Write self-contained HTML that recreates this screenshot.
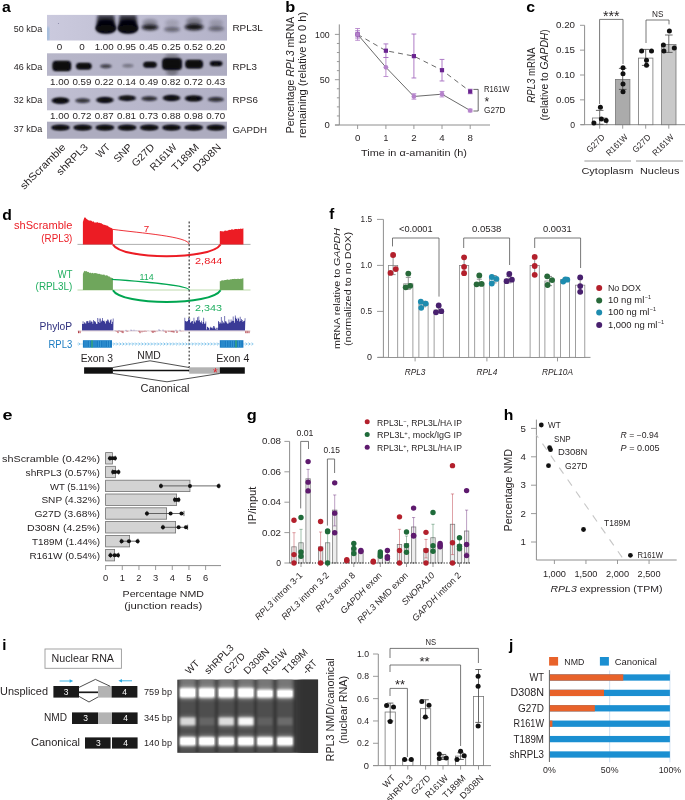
<!DOCTYPE html>
<html><head><meta charset="utf-8"><title>Figure</title>
<style>
html,body{margin:0;padding:0;background:#fff;}
body{width:685px;height:800px;overflow:hidden;font-family:"Liberation Sans",sans-serif;}
svg{display:block;font-family:"Liberation Sans",sans-serif;fill:#231f20;will-change:transform;}
</style></head><body>
<svg width="685" height="800" viewBox="0 0 685 800">
<defs>
<filter id="b1" x="-30%" y="-60%" width="160%" height="220%"><feGaussianBlur stdDeviation="1.3"/></filter>
<filter id="b2" x="-30%" y="-60%" width="160%" height="220%"><feGaussianBlur stdDeviation="0.9"/></filter>
<filter id="b3" x="-30%" y="-60%" width="160%" height="220%"><feGaussianBlur stdDeviation="1.8"/></filter>
</defs>
<rect width="685" height="800" fill="#fff"/>
<text x="2.10" y="11.60" font-size="14.8" fill="#000" font-weight="bold" textLength="8.80" lengthAdjust="spacingAndGlyphs">a</text>
<defs><linearGradient id="bg1" x1="0" x2="1" y1="0" y2="0"><stop offset="0" stop-color="#cbcade"/><stop offset="0.25" stop-color="#c5c4d8"/><stop offset="1" stop-color="#b3b2c8"/></linearGradient><linearGradient id="bg2" x1="0" x2="1" y1="0" y2="0"><stop offset="0" stop-color="#b7b6c9"/><stop offset="1" stop-color="#adacc1"/></linearGradient><clipPath id="ca1"><rect x="47" y="14.9" width="180" height="25.6"/></clipPath><clipPath id="ca2"><rect x="47" y="53.3" width="180" height="22.5"/></clipPath><clipPath id="ca3"><rect x="47" y="87.5" width="180" height="23.1"/></clipPath><clipPath id="ca4"><rect x="47" y="121.5" width="180" height="17.5"/></clipPath></defs>
<rect x="47.00" y="14.90" width="180.00" height="25.60" fill="url(#bg1)" stroke="none" stroke-width="0.8" />
<g clip-path="url(#ca1)">
<rect x="47.00" y="27.00" width="2.00" height="13.50" fill="#8fb6dc" stroke="none" stroke-width="0.8" filter="url(#b2)"/>
<circle cx="58.50" cy="23.50" r="0.6" fill="#8a88a8" />
<path d="M97.7 15 L114.1 15 L115.7 27 Q116.4 33.5 105.9 33.5 Q95.4 33.5 96.1 27 Z" fill="#0a0a14" opacity="0.8" filter="url(#b3)"/>
<path d="M98.9 20.5 Q105.9 18.5 112.9 20.5 L115.2 27 Q115.9 33 105.9 33 Q95.9 33 96.6 27 Z" fill="#05050c" filter="url(#b1)"/>
<ellipse cx="105.90" cy="28.30" rx="10" ry="3.9" fill="#07070f" opacity="1" filter="url(#b2)"/>
<path d="M119.8 15 L136.2 15 L137.8 27 Q138.4 33.5 128.0 33.5 Q117.5 33.5 118.2 27 Z" fill="#0a0a14" opacity="0.8" filter="url(#b3)"/>
<path d="M121.0 20.5 Q128.0 18.5 134.9 20.5 L137.2 27 Q137.9 33 128.0 33 Q118.0 33 118.7 27 Z" fill="#05050c" filter="url(#b1)"/>
<ellipse cx="127.95" cy="28.30" rx="10" ry="3.9" fill="#07070f" opacity="1" filter="url(#b2)"/>
<ellipse cx="150.00" cy="27.30" rx="8.6" ry="2.9" fill="#07070f" opacity="0.9" filter="url(#b3)"/>
<ellipse cx="150.00" cy="22.50" rx="7.5" ry="3.5" fill="#07070f" opacity="0.28" filter="url(#b3)"/>
<ellipse cx="172.05" cy="29.30" rx="8" ry="2.4" fill="#07070f" opacity="0.5" filter="url(#b3)"/>
<ellipse cx="172.05" cy="23.00" rx="7" ry="3.5" fill="#07070f" opacity="0.14" filter="url(#b3)"/>
<ellipse cx="194.10" cy="27.00" rx="9.5" ry="3.2" fill="#07070f" opacity="0.95" filter="url(#b3)"/>
<ellipse cx="194.10" cy="21.50" rx="8" ry="4" fill="#07070f" opacity="0.33" filter="url(#b3)"/>
<ellipse cx="216.15" cy="28.60" rx="8" ry="2.4" fill="#07070f" opacity="0.5" filter="url(#b3)"/>
<ellipse cx="216.15" cy="23.00" rx="7" ry="3.5" fill="#07070f" opacity="0.16" filter="url(#b3)"/>
</g>
<rect x="47.00" y="53.30" width="180.00" height="22.50" fill="url(#bg2)" stroke="none" stroke-width="0.8" />
<g clip-path="url(#ca2)">
<rect x="52.60" y="61.10" width="18.40" height="9.80" rx="3.2" fill="#07070f" filter="url(#b1)"/>
<rect x="53.80" y="62.00" width="16.00" height="8.00" rx="2.5" fill="#07070f" filter="url(#b2)"/>
<rect x="76.15" y="63.10" width="15.40" height="6.20" rx="3.2" fill="#07070f" filter="url(#b1)"/>
<rect x="77.35" y="64.00" width="13.00" height="4.40" rx="2.5" fill="#07070f" filter="url(#b2)"/>
<ellipse cx="105.90" cy="66.20" rx="5.8" ry="2.0" fill="#07070f" opacity="0.7" filter="url(#b1)"/>
<ellipse cx="127.95" cy="65.80" rx="5.5" ry="1.7" fill="#07070f" opacity="0.38" filter="url(#b1)"/>
<rect x="143.30" y="61.90" width="13.40" height="5.60" rx="3.2" fill="#07070f" filter="url(#b1)"/>
<rect x="144.50" y="62.80" width="11.00" height="3.80" rx="2.5" fill="#07070f" filter="url(#b2)"/>
<rect x="162.35" y="58.30" width="19.40" height="11.40" rx="3.2" fill="#07070f" filter="url(#b1)"/>
<rect x="163.55" y="59.20" width="17.00" height="9.60" rx="2.5" fill="#07070f" filter="url(#b2)"/>
<rect x="185.40" y="60.10" width="17.40" height="8.20" rx="3.2" fill="#07070f" filter="url(#b1)"/>
<rect x="186.60" y="61.00" width="15.00" height="6.40" rx="2.5" fill="#07070f" filter="url(#b2)"/>
<rect x="209.95" y="61.30" width="12.40" height="4.60" rx="2.8" fill="#07070f" filter="url(#b1)"/>
<rect x="211.15" y="62.20" width="10.00" height="2.80" rx="2.5" fill="#07070f" filter="url(#b2)"/>
<ellipse cx="172.05" cy="72.00" rx="6" ry="4" fill="#07070f" opacity="0.35" filter="url(#b3)"/>
<ellipse cx="172.05" cy="56.00" rx="7" ry="2.5" fill="#07070f" opacity="0.3" filter="url(#b3)"/>
</g>
<defs><linearGradient id="bg3" x1="0" x2="1" y1="0" y2="0"><stop offset="0" stop-color="#c0bfd2"/><stop offset="1" stop-color="#b1b0c5"/></linearGradient></defs>
<rect x="47.00" y="88.00" width="180.00" height="22.30" fill="url(#bg3)" stroke="none" stroke-width="0.8" />
<g clip-path="url(#ca3)">
<ellipse cx="60.50" cy="100.60" rx="9" ry="3.1" fill="#07070f" opacity="1" filter="url(#b1)"/>
<ellipse cx="60.50" cy="100.60" rx="7.2" ry="1.8599999999999999" fill="#07070f" opacity="0.9" filter="url(#b2)"/>
<ellipse cx="82.70" cy="100.60" rx="7.5" ry="2.4" fill="#07070f" opacity="0.78" filter="url(#b1)"/>
<ellipse cx="104.90" cy="100.00" rx="9" ry="2.9" fill="#07070f" opacity="0.95" filter="url(#b1)"/>
<ellipse cx="104.90" cy="100.00" rx="7.2" ry="1.74" fill="#07070f" opacity="0.9" filter="url(#b2)"/>
<ellipse cx="127.10" cy="98.20" rx="9" ry="2.7" fill="#07070f" opacity="0.92" filter="url(#b1)"/>
<ellipse cx="127.10" cy="98.20" rx="7.2" ry="1.62" fill="#07070f" opacity="0.9" filter="url(#b2)"/>
<ellipse cx="149.30" cy="98.60" rx="8" ry="2.4" fill="#07070f" opacity="0.82" filter="url(#b1)"/>
<ellipse cx="171.50" cy="98.00" rx="9" ry="2.9" fill="#07070f" opacity="0.95" filter="url(#b1)"/>
<ellipse cx="171.50" cy="98.00" rx="7.2" ry="1.74" fill="#07070f" opacity="0.9" filter="url(#b2)"/>
<ellipse cx="193.70" cy="98.40" rx="9" ry="2.9" fill="#07070f" opacity="0.97" filter="url(#b1)"/>
<ellipse cx="193.70" cy="98.40" rx="7.2" ry="1.74" fill="#07070f" opacity="0.9" filter="url(#b2)"/>
<ellipse cx="215.90" cy="99.40" rx="8" ry="2.4" fill="#07070f" opacity="0.8" filter="url(#b1)"/>
</g>
<rect x="47.00" y="121.70" width="180.00" height="17.00" fill="#adacbf" stroke="none" stroke-width="0.8" />
<g clip-path="url(#ca4)">
<ellipse cx="60.50" cy="127.60" rx="9.2" ry="2.3" fill="#07070f" opacity="1" filter="url(#b2)"/>
<ellipse cx="60.50" cy="127.60" rx="8.8" ry="2.6" fill="#07070f" opacity="0.8" filter="url(#b1)"/>
<ellipse cx="82.70" cy="127.60" rx="9.2" ry="2.3" fill="#07070f" opacity="1" filter="url(#b2)"/>
<ellipse cx="82.70" cy="127.60" rx="8.8" ry="2.6" fill="#07070f" opacity="0.8" filter="url(#b1)"/>
<ellipse cx="104.90" cy="127.60" rx="9.2" ry="2.3" fill="#07070f" opacity="1" filter="url(#b2)"/>
<ellipse cx="104.90" cy="127.60" rx="8.8" ry="2.6" fill="#07070f" opacity="0.8" filter="url(#b1)"/>
<ellipse cx="127.10" cy="127.60" rx="9.2" ry="2.3" fill="#07070f" opacity="1" filter="url(#b2)"/>
<ellipse cx="127.10" cy="127.60" rx="8.8" ry="2.6" fill="#07070f" opacity="0.8" filter="url(#b1)"/>
<ellipse cx="149.30" cy="127.60" rx="9.2" ry="2.3" fill="#07070f" opacity="1" filter="url(#b2)"/>
<ellipse cx="149.30" cy="127.60" rx="8.8" ry="2.6" fill="#07070f" opacity="0.8" filter="url(#b1)"/>
<ellipse cx="171.50" cy="127.60" rx="9.2" ry="2.3" fill="#07070f" opacity="1" filter="url(#b2)"/>
<ellipse cx="171.50" cy="127.60" rx="8.8" ry="2.6" fill="#07070f" opacity="0.8" filter="url(#b1)"/>
<ellipse cx="193.70" cy="127.60" rx="9.2" ry="2.3" fill="#07070f" opacity="1" filter="url(#b2)"/>
<ellipse cx="193.70" cy="127.60" rx="8.8" ry="2.6" fill="#07070f" opacity="0.8" filter="url(#b1)"/>
<ellipse cx="215.90" cy="127.60" rx="9.2" ry="2.3" fill="#07070f" opacity="1" filter="url(#b2)"/>
<ellipse cx="215.90" cy="127.60" rx="8.8" ry="2.6" fill="#07070f" opacity="0.8" filter="url(#b1)"/>
</g>
<text x="42.20" y="31.50" font-size="9.2" text-anchor="end" textLength="28.50" lengthAdjust="spacingAndGlyphs">50 kDa</text>
<text x="42.20" y="70.00" font-size="9.2" text-anchor="end" textLength="28.50" lengthAdjust="spacingAndGlyphs">46 kDa</text>
<text x="42.20" y="103.30" font-size="9.2" text-anchor="end" textLength="28.50" lengthAdjust="spacingAndGlyphs">32 kDa</text>
<text x="42.20" y="132.30" font-size="9.2" text-anchor="end" textLength="28.50" lengthAdjust="spacingAndGlyphs">37 kDa</text>
<text x="232.40" y="30.80" font-size="9.8" textLength="30.40" lengthAdjust="spacingAndGlyphs">RPL3L</text>
<text x="232.40" y="70.00" font-size="9.8" textLength="24.50" lengthAdjust="spacingAndGlyphs">RPL3</text>
<text x="232.40" y="103.30" font-size="9.8" textLength="25.50" lengthAdjust="spacingAndGlyphs">RPS6</text>
<text x="232.40" y="132.60" font-size="9.8" textLength="34.50" lengthAdjust="spacingAndGlyphs">GAPDH</text>
<text x="59.60" y="49.60" font-size="8.2" text-anchor="middle" textLength="5.50" lengthAdjust="spacingAndGlyphs">0</text>
<text x="81.90" y="49.60" font-size="8.2" text-anchor="middle" textLength="5.50" lengthAdjust="spacingAndGlyphs">0</text>
<text x="104.20" y="49.60" font-size="8.2" text-anchor="middle" textLength="19.00" lengthAdjust="spacingAndGlyphs">1.00</text>
<text x="126.50" y="49.60" font-size="8.2" text-anchor="middle" textLength="19.00" lengthAdjust="spacingAndGlyphs">0.95</text>
<text x="148.80" y="49.60" font-size="8.2" text-anchor="middle" textLength="19.00" lengthAdjust="spacingAndGlyphs">0.45</text>
<text x="171.10" y="49.60" font-size="8.2" text-anchor="middle" textLength="19.00" lengthAdjust="spacingAndGlyphs">0.25</text>
<text x="193.40" y="49.60" font-size="8.2" text-anchor="middle" textLength="19.00" lengthAdjust="spacingAndGlyphs">0.52</text>
<text x="215.70" y="49.60" font-size="8.2" text-anchor="middle" textLength="19.00" lengthAdjust="spacingAndGlyphs">0.20</text>
<text x="59.60" y="85.00" font-size="8.2" text-anchor="middle" textLength="19.00" lengthAdjust="spacingAndGlyphs">1.00</text>
<text x="81.90" y="85.00" font-size="8.2" text-anchor="middle" textLength="19.00" lengthAdjust="spacingAndGlyphs">0.59</text>
<text x="104.20" y="85.00" font-size="8.2" text-anchor="middle" textLength="19.00" lengthAdjust="spacingAndGlyphs">0.22</text>
<text x="126.50" y="85.00" font-size="8.2" text-anchor="middle" textLength="19.00" lengthAdjust="spacingAndGlyphs">0.14</text>
<text x="148.80" y="85.00" font-size="8.2" text-anchor="middle" textLength="19.00" lengthAdjust="spacingAndGlyphs">0.49</text>
<text x="171.10" y="85.00" font-size="8.2" text-anchor="middle" textLength="19.00" lengthAdjust="spacingAndGlyphs">0.82</text>
<text x="193.40" y="85.00" font-size="8.2" text-anchor="middle" textLength="19.00" lengthAdjust="spacingAndGlyphs">0.72</text>
<text x="215.70" y="85.00" font-size="8.2" text-anchor="middle" textLength="19.00" lengthAdjust="spacingAndGlyphs">0.43</text>
<text x="59.60" y="119.00" font-size="8.2" text-anchor="middle" textLength="19.00" lengthAdjust="spacingAndGlyphs">1.00</text>
<text x="81.90" y="119.00" font-size="8.2" text-anchor="middle" textLength="19.00" lengthAdjust="spacingAndGlyphs">0.72</text>
<text x="104.20" y="119.00" font-size="8.2" text-anchor="middle" textLength="19.00" lengthAdjust="spacingAndGlyphs">0.87</text>
<text x="126.50" y="119.00" font-size="8.2" text-anchor="middle" textLength="19.00" lengthAdjust="spacingAndGlyphs">0.81</text>
<text x="148.80" y="119.00" font-size="8.2" text-anchor="middle" textLength="19.00" lengthAdjust="spacingAndGlyphs">0.73</text>
<text x="171.10" y="119.00" font-size="8.2" text-anchor="middle" textLength="19.00" lengthAdjust="spacingAndGlyphs">0.88</text>
<text x="193.40" y="119.00" font-size="8.2" text-anchor="middle" textLength="19.00" lengthAdjust="spacingAndGlyphs">0.98</text>
<text x="215.70" y="119.00" font-size="8.2" text-anchor="middle" textLength="19.00" lengthAdjust="spacingAndGlyphs">0.70</text>
<text x="66.30" y="147.80" font-size="10.2" text-anchor="end" transform="rotate(-45 66.30 147.80)" textLength="59.60" lengthAdjust="spacingAndGlyphs">shScramble</text>
<text x="88.50" y="147.80" font-size="10.2" text-anchor="end" transform="rotate(-45 88.50 147.80)" textLength="39.50" lengthAdjust="spacingAndGlyphs">shRPL3</text>
<text x="110.70" y="147.80" font-size="10.2" text-anchor="end" transform="rotate(-45 110.70 147.80)" textLength="15.00" lengthAdjust="spacingAndGlyphs">WT</text>
<text x="132.90" y="147.80" font-size="10.2" text-anchor="end" transform="rotate(-45 132.90 147.80)" textLength="21.50" lengthAdjust="spacingAndGlyphs">SNP</text>
<text x="155.10" y="147.80" font-size="10.2" text-anchor="end" transform="rotate(-45 155.10 147.80)" textLength="27.50" lengthAdjust="spacingAndGlyphs">G27D</text>
<text x="177.30" y="147.80" font-size="10.2" text-anchor="end" transform="rotate(-45 177.30 147.80)" textLength="33.00" lengthAdjust="spacingAndGlyphs">R161W</text>
<text x="199.50" y="147.80" font-size="10.2" text-anchor="end" transform="rotate(-45 199.50 147.80)" textLength="33.50" lengthAdjust="spacingAndGlyphs">T189M</text>
<text x="221.70" y="147.80" font-size="10.2" text-anchor="end" transform="rotate(-45 221.70 147.80)" textLength="35.00" lengthAdjust="spacingAndGlyphs">D308N</text>
<text x="285.20" y="11.70" font-size="15" fill="#000" font-weight="bold" textLength="10.00" lengthAdjust="spacingAndGlyphs">b</text>
<path d="M339.3 24.4V125" stroke="#8e8e8e" stroke-width="1" fill="none" />
<line x1="335.00" y1="125.00" x2="490.00" y2="125.00" stroke="#8e8e8e" stroke-width="1" />
<line x1="334.90" y1="125.00" x2="339.30" y2="125.00" stroke="#8e8e8e" stroke-width="0.9" />
<line x1="336.90" y1="115.94" x2="339.30" y2="115.94" stroke="#8e8e8e" stroke-width="0.9" />
<line x1="336.90" y1="106.88" x2="339.30" y2="106.88" stroke="#8e8e8e" stroke-width="0.9" />
<line x1="336.90" y1="97.82" x2="339.30" y2="97.82" stroke="#8e8e8e" stroke-width="0.9" />
<line x1="336.90" y1="88.76" x2="339.30" y2="88.76" stroke="#8e8e8e" stroke-width="0.9" />
<line x1="334.90" y1="79.70" x2="339.30" y2="79.70" stroke="#8e8e8e" stroke-width="0.9" />
<line x1="336.90" y1="70.64" x2="339.30" y2="70.64" stroke="#8e8e8e" stroke-width="0.9" />
<line x1="336.90" y1="61.58" x2="339.30" y2="61.58" stroke="#8e8e8e" stroke-width="0.9" />
<line x1="336.90" y1="52.52" x2="339.30" y2="52.52" stroke="#8e8e8e" stroke-width="0.9" />
<line x1="336.90" y1="43.46" x2="339.30" y2="43.46" stroke="#8e8e8e" stroke-width="0.9" />
<line x1="334.90" y1="34.40" x2="339.30" y2="34.40" stroke="#8e8e8e" stroke-width="0.9" />
<line x1="357.60" y1="125.00" x2="357.60" y2="129.00" stroke="#8e8e8e" stroke-width="0.9" />
<line x1="385.90" y1="125.00" x2="385.90" y2="129.00" stroke="#8e8e8e" stroke-width="0.9" />
<line x1="413.90" y1="125.00" x2="413.90" y2="129.00" stroke="#8e8e8e" stroke-width="0.9" />
<line x1="442.00" y1="125.00" x2="442.00" y2="129.00" stroke="#8e8e8e" stroke-width="0.9" />
<line x1="470.20" y1="125.00" x2="470.20" y2="129.00" stroke="#8e8e8e" stroke-width="0.9" />
<text x="329.70" y="128.10" font-size="8.6" text-anchor="end" textLength="5.30" lengthAdjust="spacingAndGlyphs">0</text>
<text x="329.70" y="82.80" font-size="8.6" text-anchor="end" textLength="10.00" lengthAdjust="spacingAndGlyphs">50</text>
<text x="329.70" y="37.50" font-size="8.6" text-anchor="end" textLength="14.60" lengthAdjust="spacingAndGlyphs">100</text>
<text x="357.60" y="140.70" font-size="8.6" text-anchor="middle" textLength="5.40" lengthAdjust="spacingAndGlyphs">0</text>
<text x="385.90" y="140.70" font-size="8.6" text-anchor="middle">1</text>
<text x="413.90" y="140.70" font-size="8.6" text-anchor="middle" textLength="5.40" lengthAdjust="spacingAndGlyphs">2</text>
<text x="442.00" y="140.70" font-size="8.6" text-anchor="middle" textLength="5.40" lengthAdjust="spacingAndGlyphs">4</text>
<text x="470.20" y="140.70" font-size="8.6" text-anchor="middle" textLength="5.40" lengthAdjust="spacingAndGlyphs">8</text>
<text x="414.00" y="156.00" font-size="9.8" text-anchor="middle" textLength="106.00" lengthAdjust="spacingAndGlyphs">Time in α-amanitin (h)</text>
<text transform="translate(294.4 75) rotate(-90)" font-size="10.3" text-anchor="middle" textLength="116.5" lengthAdjust="spacingAndGlyphs">Percentage <tspan font-style="italic">RPL3</tspan> mRNA</text>
<text transform="translate(306.2 75) rotate(-90)" font-size="10.3" text-anchor="middle" textLength="126.2" lengthAdjust="spacingAndGlyphs">remaining (relative to 0 h)</text>
<path d="M357.60 34.40 L385.90 50.71 L413.90 56.14 L442.00 70.19 L470.20 91.48" stroke="#444" stroke-width="0.8" fill="none" stroke-dasharray="5 4"/>
<path d="M357.60 34.40 L385.90 67.29 L413.90 96.46 L442.00 94.20 L470.20 110.50" stroke="#444" stroke-width="0.8" fill="none" />
<path d="M357.60 40.29V28.51M355.20 40.29H360.00M355.20 28.51H360.00" stroke="#b583cb" stroke-width="0.9" fill="none" />
<path d="M385.90 76.53V57.50M383.50 76.53H388.30M383.50 57.50H388.30" stroke="#b583cb" stroke-width="0.9" fill="none" />
<path d="M413.90 99.18V93.74M411.50 99.18H416.30M411.50 93.74H416.30" stroke="#b583cb" stroke-width="0.9" fill="none" />
<path d="M442.00 96.91V91.48M439.60 96.91H444.40M439.60 91.48H444.40" stroke="#b583cb" stroke-width="0.9" fill="none" />
<path d="M470.20 111.86V109.14M467.80 111.86H472.60M467.80 109.14H472.60" stroke="#b583cb" stroke-width="0.9" fill="none" />
<path d="M357.60 38.02V30.78M355.20 38.02H360.00M355.20 30.78H360.00" stroke="#a56cc0" stroke-width="0.9" fill="none" />
<path d="M385.90 57.50V43.91M383.50 57.50H388.30M383.50 43.91H388.30" stroke="#a56cc0" stroke-width="0.9" fill="none" />
<path d="M413.90 77.98V34.04M411.50 77.98H416.30M411.50 34.04H416.30" stroke="#a56cc0" stroke-width="0.9" fill="none" />
<path d="M442.00 80.97V59.41M439.60 80.97H444.40M439.60 59.41H444.40" stroke="#a56cc0" stroke-width="0.9" fill="none" />
<path d="M470.20 93.74V89.21M467.80 93.74H472.60M467.80 89.21H472.60" stroke="#a56cc0" stroke-width="0.9" fill="none" />
<circle cx="357.60" cy="34.40" r="2.35" fill="#b583cb" />
<circle cx="385.90" cy="67.29" r="2.35" fill="#b583cb" />
<circle cx="413.90" cy="96.46" r="2.35" fill="#b583cb" />
<circle cx="442.00" cy="94.20" r="2.35" fill="#b583cb" />
<circle cx="470.20" cy="110.50" r="2.35" fill="#b583cb" />
<rect x="355.50" y="32.30" width="4.20" height="4.20" fill="#6a2490" stroke="none" stroke-width="0.8" />
<rect x="383.80" y="48.61" width="4.20" height="4.20" fill="#6a2490" stroke="none" stroke-width="0.8" />
<rect x="411.80" y="54.04" width="4.20" height="4.20" fill="#6a2490" stroke="none" stroke-width="0.8" />
<rect x="439.90" y="68.09" width="4.20" height="4.20" fill="#6a2490" stroke="none" stroke-width="0.8" />
<rect x="468.10" y="89.38" width="4.20" height="4.20" fill="#6a2490" stroke="none" stroke-width="0.8" />
<rect x="355.50" y="32.30" width="4.20" height="4.20" fill="#b27fc9" stroke="none" stroke-width="0.8" />
<path d="M473.4 89.4H478.2V111H473.4" stroke="#444" stroke-width="0.8" fill="none" />
<text x="484.00" y="92.00" font-size="8.4" textLength="25.60" lengthAdjust="spacingAndGlyphs">R161W</text>
<text x="484.00" y="112.60" font-size="8.4" textLength="21.60" lengthAdjust="spacingAndGlyphs">G27D</text>
<text x="484.60" y="105.80" font-size="12">*</text>
<text x="526.20" y="11.60" font-size="15" fill="#000" font-weight="bold" textLength="8.80" lengthAdjust="spacingAndGlyphs">c</text>
<path d="M584.6 25.299999999999997V124.7" stroke="#8e8e8e" stroke-width="1" fill="none" />
<line x1="580.80" y1="124.70" x2="685.00" y2="124.70" stroke="#8e8e8e" stroke-width="1" />
<line x1="580.00" y1="124.70" x2="584.60" y2="124.70" stroke="#8e8e8e" stroke-width="0.9" />
<text x="575.00" y="127.80" font-size="8.6" text-anchor="end" textLength="4.80" lengthAdjust="spacingAndGlyphs">0</text>
<line x1="580.00" y1="99.85" x2="584.60" y2="99.85" stroke="#8e8e8e" stroke-width="0.9" />
<text x="575.00" y="102.95" font-size="8.6" text-anchor="end" textLength="19.00" lengthAdjust="spacingAndGlyphs">0.05</text>
<line x1="580.00" y1="75.00" x2="584.60" y2="75.00" stroke="#8e8e8e" stroke-width="0.9" />
<text x="575.00" y="78.10" font-size="8.6" text-anchor="end" textLength="19.00" lengthAdjust="spacingAndGlyphs">0.10</text>
<line x1="580.00" y1="50.15" x2="584.60" y2="50.15" stroke="#8e8e8e" stroke-width="0.9" />
<text x="575.00" y="53.25" font-size="8.6" text-anchor="end" textLength="19.00" lengthAdjust="spacingAndGlyphs">0.15</text>
<line x1="580.00" y1="25.30" x2="584.60" y2="25.30" stroke="#8e8e8e" stroke-width="0.9" />
<text x="575.00" y="28.40" font-size="8.6" text-anchor="end" textLength="19.00" lengthAdjust="spacingAndGlyphs">0.20</text>
<rect x="592.50" y="117.99" width="14.40" height="6.71" fill="#fff" stroke="#777" stroke-width="0.8" />
<line x1="599.70" y1="124.70" x2="599.70" y2="128.70" stroke="#8e8e8e" stroke-width="0.9" />
<rect x="615.50" y="79.47" width="14.40" height="45.23" fill="#ababab" stroke="#777" stroke-width="0.8" />
<line x1="622.70" y1="124.70" x2="622.70" y2="128.70" stroke="#8e8e8e" stroke-width="0.9" />
<rect x="638.50" y="58.10" width="14.40" height="66.60" fill="#fff" stroke="#777" stroke-width="0.8" />
<line x1="645.70" y1="124.70" x2="645.70" y2="128.70" stroke="#8e8e8e" stroke-width="0.9" />
<rect x="661.60" y="44.43" width="14.40" height="80.27" fill="#c9c9c9" stroke="#777" stroke-width="0.8" />
<line x1="668.80" y1="124.70" x2="668.80" y2="128.70" stroke="#8e8e8e" stroke-width="0.9" />
<path d="M599.70 110.40V124.30M595.90 110.40H603.50M595.90 124.30H603.50" stroke="#444" stroke-width="0.8" fill="none" />
<path d="M622.70 68.40V89.40M618.90 68.40H626.50M618.90 89.40H626.50" stroke="#444" stroke-width="0.8" fill="none" />
<path d="M645.70 49.40V65.40M641.90 49.40H649.50M641.90 65.40H649.50" stroke="#444" stroke-width="0.8" fill="none" />
<path d="M668.80 35.00V52.40M665.00 35.00H672.60M665.00 52.40H672.60" stroke="#444" stroke-width="0.8" fill="none" />
<circle cx="593.90" cy="122.90" r="2.5" fill="#111" />
<circle cx="600.40" cy="107.20" r="2.5" fill="#111" />
<circle cx="601.40" cy="119.10" r="2.5" fill="#111" />
<circle cx="606.10" cy="120.40" r="2.5" fill="#111" />
<circle cx="623.00" cy="67.80" r="2.5" fill="#111" />
<circle cx="623.00" cy="73.70" r="2.5" fill="#111" />
<circle cx="623.00" cy="83.90" r="2.5" fill="#111" />
<circle cx="623.00" cy="91.80" r="2.5" fill="#111" />
<circle cx="641.60" cy="50.90" r="2.5" fill="#111" />
<circle cx="651.50" cy="50.90" r="2.5" fill="#111" />
<circle cx="646.50" cy="60.30" r="2.5" fill="#111" />
<circle cx="646.50" cy="65.30" r="2.5" fill="#111" />
<circle cx="669.40" cy="31.00" r="2.5" fill="#111" />
<circle cx="663.40" cy="44.90" r="2.5" fill="#111" />
<circle cx="674.30" cy="47.90" r="2.5" fill="#111" />
<circle cx="663.90" cy="50.90" r="2.5" fill="#111" />
<path d="M599.6 104V19.4H623V64" stroke="#555" stroke-width="0.8" fill="none" />
<path d="M646 43V20H669V24.4" stroke="#555" stroke-width="0.8" fill="none" />
<text x="611.30" y="21.20" font-size="14" text-anchor="middle" textLength="16.60" lengthAdjust="spacingAndGlyphs">***</text>
<text x="657.70" y="17.00" font-size="9.2" text-anchor="middle" textLength="11.40" lengthAdjust="spacingAndGlyphs">NS</text>
<text x="605.30" y="137.80" font-size="8.6" text-anchor="end" transform="rotate(-45 605.30 137.80)" textLength="22.00" lengthAdjust="spacingAndGlyphs">G27D</text>
<text x="628.30" y="137.80" font-size="8.6" text-anchor="end" transform="rotate(-45 628.30 137.80)" textLength="26.50" lengthAdjust="spacingAndGlyphs">R161W</text>
<text x="651.30" y="137.80" font-size="8.6" text-anchor="end" transform="rotate(-45 651.30 137.80)" textLength="22.00" lengthAdjust="spacingAndGlyphs">G27D</text>
<text x="674.40" y="137.80" font-size="8.6" text-anchor="end" transform="rotate(-45 674.40 137.80)" textLength="26.50" lengthAdjust="spacingAndGlyphs">R161W</text>
<line x1="584.40" y1="161.00" x2="631.00" y2="161.00" stroke="#8e8e8e" stroke-width="0.9" />
<line x1="636.00" y1="161.00" x2="683.00" y2="161.00" stroke="#8e8e8e" stroke-width="0.9" />
<text x="607.40" y="174.00" font-size="9.9" text-anchor="middle" textLength="52.00" lengthAdjust="spacingAndGlyphs">Cytoplasm</text>
<text x="659.70" y="174.00" font-size="9.9" text-anchor="middle" textLength="39.40" lengthAdjust="spacingAndGlyphs">Nucleus</text>
<text transform="translate(535.4 75.2) rotate(-90)" font-size="10.3" text-anchor="middle" textLength="55" lengthAdjust="spacingAndGlyphs"><tspan font-style="italic">RPL3</tspan> mRNA</text>
<text transform="translate(547.8 74.9) rotate(-90)" font-size="10.3" text-anchor="middle" textLength="91.4" lengthAdjust="spacingAndGlyphs">(relative to <tspan font-style="italic">GAPDH</tspan>)</text>
<text x="2.30" y="219.70" font-size="15.2" fill="#000" font-weight="bold" textLength="9.60" lengthAdjust="spacingAndGlyphs">d</text>
<line x1="77.50" y1="244.40" x2="250.50" y2="244.40" stroke="#999" stroke-width="0.8" />
<polygon points="82.9,244.4 82.9,222.0 83.6,219.7 84.3,217.8 85.0,217.3 85.8,218.1 86.5,218.9 87.2,219.3 87.9,219.9 88.6,220.3 89.3,220.7 90.0,220.2 90.8,220.7 91.5,220.7 92.2,221.6 92.9,221.8 93.6,221.3 94.3,222.4 95.0,222.6 95.8,222.4 96.5,222.6 97.2,222.3 97.9,222.3 98.6,223.0 99.3,222.7 100.0,223.1 100.8,223.3 101.5,223.3 102.2,224.0 102.9,224.2 103.6,224.8 104.3,224.8 105.0,225.1 105.8,225.2 106.5,225.6 107.2,225.7 107.9,225.7 108.6,226.7 109.3,227.0 110.0,227.4 110.8,227.8 111.5,228.0 112.2,228.4 112.9,229.0 112.9,244.4" fill="#ec1c24"/>
<polygon points="219.8,244.4 219.8,231.5 220.5,230.9 221.2,230.9 221.9,231.6 222.7,231.2 223.4,231.5 224.1,231.3 224.8,230.5 225.5,230.6 226.2,230.9 227.0,230.5 227.7,230.7 228.4,230.2 229.1,229.8 229.8,230.1 230.5,230.1 231.2,229.6 232.0,229.3 232.7,229.4 233.4,229.8 234.1,229.6 234.8,229.1 235.5,229.1 236.2,228.9 237.0,228.9 237.7,229.3 238.4,228.8 239.1,229.0 239.8,228.9 240.5,228.6 241.3,229.0 242.0,228.5 242.7,228.8 243.4,228.3 243.4,244.4" fill="#ec1c24"/>
<path d="M112.9 229.4 C140 233 189.0 236.5 189.2 244.4" stroke="#ec1c24" stroke-width="0.9" fill="none" />
<path d="M112.9 244.4 C122 260.2 211 260.2 220.60000000000002 244.4" stroke="#ec1c24" stroke-width="2.0" fill="none" />
<text x="146.50" y="231.60" font-size="9.8" text-anchor="middle" fill="#ec1c24">7</text>
<text x="208.70" y="264.40" font-size="9.4" text-anchor="middle" fill="#ec1c24" textLength="27.40" lengthAdjust="spacingAndGlyphs">2,844</text>
<text x="72.40" y="229.20" font-size="10" text-anchor="end" fill="#ec1c24" textLength="58.30" lengthAdjust="spacingAndGlyphs">shScramble</text>
<text x="72.40" y="241.50" font-size="10" text-anchor="end" fill="#ec1c24" textLength="31.10" lengthAdjust="spacingAndGlyphs">(RPL3)</text>
<line x1="77.50" y1="290.00" x2="250.50" y2="290.00" stroke="#b5d6a3" stroke-width="0.9" />
<polygon points="82.9,290.0 82.9,273.9 83.6,272.2 84.3,270.7 85.0,271.2 85.8,271.3 86.5,271.1 87.2,272.0 87.9,271.7 88.6,272.1 89.3,272.8 90.0,272.9 90.8,272.5 91.5,273.4 92.2,272.8 92.9,272.9 93.6,273.5 94.3,273.1 95.0,273.2 95.8,273.1 96.5,273.2 97.2,273.7 97.9,273.5 98.6,273.9 99.3,273.8 100.0,274.0 100.8,274.6 101.5,274.4 102.2,274.6 102.9,275.0 103.6,274.5 104.3,274.6 105.0,275.5 105.8,275.5 106.5,275.2 107.2,275.3 107.9,275.9 108.6,276.4 109.3,276.2 110.0,277.3 110.8,277.6 111.5,277.8 112.2,278.0 112.9,278.1 112.9,290.0" fill="#6fa65c"/>
<polygon points="219.8,290.0 219.8,281.2 220.5,281.2 221.2,280.4 221.9,280.6 222.7,280.3 223.4,280.5 224.1,280.3 224.8,280.0 225.5,279.9 226.2,280.1 227.0,279.6 227.7,279.6 228.4,279.8 229.1,279.9 229.8,279.6 230.5,279.3 231.2,279.6 232.0,279.1 232.7,279.0 233.4,279.1 234.1,279.1 234.8,278.8 235.5,278.9 236.2,278.9 237.0,279.0 237.7,278.7 238.4,278.8 239.1,279.0 239.8,279.0 240.5,278.8 241.3,278.8 242.0,278.7 242.7,278.3 243.4,278.2 243.4,290.0" fill="#6fa65c"/>
<path d="M111.7 279.3 C140 281.6 189.0 285 189.2 290.2" stroke="#00a651" stroke-width="1.3" fill="none" />
<path d="M112.9 290.2 C122 306 211 306 220.60000000000002 290.2" stroke="#00a651" stroke-width="2.0" fill="none" />
<text x="146.50" y="280.40" font-size="9.6" text-anchor="middle" fill="#1fae5f" textLength="14.20" lengthAdjust="spacingAndGlyphs">114</text>
<text x="208.60" y="310.60" font-size="9.4" text-anchor="middle" fill="#1fae5f" textLength="27.00" lengthAdjust="spacingAndGlyphs">2,343</text>
<text x="72.40" y="277.90" font-size="10" text-anchor="end" fill="#1fae5f" textLength="14.60" lengthAdjust="spacingAndGlyphs">WT</text>
<text x="72.40" y="289.90" font-size="10" text-anchor="end" fill="#1fae5f" textLength="36.80" lengthAdjust="spacingAndGlyphs">(RPL3L)</text>
<line x1="189.20" y1="221.50" x2="189.20" y2="373.00" stroke="#4a4a4a" stroke-width="1.3" stroke-dasharray="1.9 1.9"/>
<polygon points="82.0,330.6 82.0,324.0 82.7,324.0 82.7,321.3 83.4,321.3 83.4,324.0 84.1,324.0 84.1,322.2 84.8,322.2 84.8,322.8 85.5,322.8 85.5,323.8 86.2,323.8 86.2,321.2 86.9,321.2 86.9,321.2 87.6,321.2 87.6,320.9 88.3,320.9 88.3,322.7 89.0,322.7 89.0,320.5 89.7,320.5 89.7,322.4 90.4,322.4 90.4,320.6 91.1,320.6 91.1,321.6 91.8,321.6 91.8,321.8 92.5,321.8 92.5,323.8 93.2,323.8 93.2,320.1 93.9,320.1 93.9,321.2 94.6,321.2 94.6,321.2 95.3,321.2 95.3,322.3 96.0,322.3 96.0,323.8 96.7,323.8 96.7,324.0 97.4,324.0 97.4,318.1 98.1,318.1 98.1,322.1 98.8,322.1 98.8,318.4 99.5,318.4 99.5,322.9 100.2,322.9 100.2,318.6 100.9,318.6 100.9,321.5 101.6,321.5 101.6,320.5 102.3,320.5 102.3,318.1 103.0,318.1 103.0,320.9 103.7,320.9 103.7,320.6 104.4,320.6 104.4,321.8 105.1,321.8 105.1,323.6 105.8,323.6 105.8,320.8 106.5,320.8 106.5,321.3 107.2,321.3 107.2,319.6 107.9,319.6 107.9,319.8 108.6,319.8 108.6,321.6 109.3,321.6 109.3,322.8 110.0,322.8 110.0,320.2 110.7,320.2 110.7,319.2 111.4,319.2 111.4,323.9 112.1,323.9 112.1,321.8 112.8,321.8 112.8,318.5 113.5,318.5 113.3,330.6" fill="#3a3a96"/>
<polygon points="184.5,330.6 184.5,317.8 185.2,317.8 185.2,321.0 185.9,321.0 185.9,321.6 186.6,321.6 186.6,321.6 187.3,321.6 187.3,320.9 188.0,320.9 188.0,317.9 188.7,317.9 188.7,320.0 189.4,320.0 189.4,318.4 190.1,318.4 190.1,322.7 190.8,322.7 190.8,322.0 191.5,322.0 191.5,321.1 192.2,321.1 192.2,320.9 192.9,320.9 192.9,323.8 193.6,323.8 193.6,317.8 194.3,317.8 194.3,321.6 195.0,321.6 195.0,322.6 195.7,322.6 195.7,320.6 196.4,320.6 196.4,320.3 197.1,320.3 197.1,317.3 197.8,317.3 197.8,320.8 198.5,320.8 198.5,316.5 199.2,316.5 199.2,320.2 199.9,320.2 199.9,322.0 200.6,322.0 200.6,322.8 201.3,322.8 201.3,320.7 202.0,320.7 202.0,323.8 202.7,323.8 202.7,321.9 203.4,321.9 203.4,317.7 204.1,317.7 204.1,323.8 204.8,323.8 204.8,323.4 205.5,323.4 205.5,321.6 206.2,321.6 206.2,329.4 206.9,329.4 206.9,326.8 207.6,326.8 207.6,327.0 208.3,327.0 208.3,327.9 209.0,327.9 209.0,329.7 209.7,329.7 209.7,327.7 210.4,327.7 210.4,326.8 211.1,326.8 211.1,327.7 211.8,327.7 211.8,327.6 212.5,327.6 212.5,328.4 213.2,328.4 213.2,326.0 213.9,326.0 213.9,326.3 214.6,326.3 214.6,327.7 215.3,327.7 215.3,329.2 216.0,329.2 216.0,327.8 216.7,327.8 216.7,330.0 217.4,330.0 217.4,327.8 218.1,327.8 218.1,320.9 218.8,320.9 218.8,322.1 219.5,322.1 219.5,323.8 220.2,323.8 220.2,322.4 220.9,322.4 220.9,317.0 221.6,317.0 221.6,323.6 222.3,323.6 222.3,320.8 223.0,320.8 223.0,322.2 223.7,322.2 223.7,323.3 224.4,323.3 224.4,316.1 225.1,316.1 225.1,321.3 225.8,321.3 225.8,321.4 226.5,321.4 226.5,322.7 227.2,322.7 227.2,323.7 227.9,323.7 227.9,323.6 228.6,323.6 228.6,319.5 229.3,319.5 229.3,322.4 230.0,322.4 230.0,322.4 230.7,322.4 230.7,319.6 231.4,319.6 231.4,321.5 232.1,321.5 232.1,320.7 232.8,320.7 232.8,316.5 233.5,316.5 233.5,320.9 234.2,320.9 234.2,322.8 234.9,322.8 234.9,315.4 235.6,315.4 235.6,317.8 236.3,317.8 236.3,318.9 237.0,318.9 237.0,320.8 237.7,320.8 237.7,317.7 238.4,317.7 238.4,318.8 239.1,318.8 239.1,321.4 239.8,321.4 239.8,316.7 240.5,316.7 240.5,321.1 241.2,321.1 241.2,319.1 241.9,319.1 241.9,320.0 242.6,320.0 242.6,322.0 243.3,322.0 243.3,320.9 244.0,320.9 244.0,320.7 244.7,320.7 244.7,318.2 245.4,318.2 245.0,330.6" fill="#3a3a96"/>
<path d="M116.0 330.8V331.4M117.0 330.8V331.6M118.0 330.8V333.1M120.0 330.8V331.5M121.0 330.8V331.7M122.0 330.8V332.6M123.0 330.8V333.1M127.0 330.8V331.7M128.0 330.8V331.3M139.0 330.8V331.9M140.0 330.8V333.2M142.0 330.8V332.3M144.0 330.8V331.9M145.0 330.8V331.0M146.0 330.8V331.7M151.0 330.8V330.9M152.0 330.8V332.2M153.0 330.8V333.0M154.0 330.8V331.8M155.0 330.8V332.2M157.0 330.8V331.3M161.0 330.8V330.9M164.0 330.8V331.4M165.0 330.8V331.3M166.0 330.8V333.0M168.0 330.8V331.2M169.0 330.8V331.8M171.0 330.8V332.1M172.0 330.8V332.1M173.0 330.8V332.3M174.0 330.8V332.6M177.0 330.8V333.0M181.0 330.8V331.4M183.0 330.8V331.2M78.5 330.8V333.2M80 330.8V333.2M245.8 330.8V333.2M247.2 330.8V333.2M249 330.8V333.2" stroke="#a8242e" stroke-width="0.9" fill="none" />
<path d="M115.0 330.8V330.3M119.0 330.8V330.0M126.0 330.8V329.9M131.0 330.8V329.7M132.0 330.8V330.2M134.0 330.8V329.8M136.0 330.8V330.3M138.0 330.8V330.5M141.0 330.8V330.8M148.0 330.8V330.5M159.0 330.8V329.4M160.0 330.8V330.1M163.0 330.8V329.7M170.0 330.8V330.7M176.0 330.8V329.8M180.0 330.8V329.8" stroke="#3a3a96" stroke-width="0.7" fill="none" />
<line x1="77.50" y1="331.00" x2="250.50" y2="331.00" stroke="#c9a9b0" stroke-width="0.5" />
<text x="72.20" y="329.70" font-size="10" text-anchor="end" fill="#2c2d7c" textLength="32.60" lengthAdjust="spacingAndGlyphs">PhyloP</text>
<line x1="77.00" y1="344.00" x2="252.00" y2="344.00" stroke="#a8d5f0" stroke-width="0.7" />
<path d="M78.5 342.6L79.9 344L78.5 345.4M113.2 342.6L114.6 344L113.2 345.4M116.3 342.6L117.7 344L116.3 345.4M119.5 342.6L120.9 344L119.5 345.4M122.6 342.6L124.0 344L122.6 345.4M125.8 342.6L127.2 344L125.8 345.4M128.9 342.6L130.3 344L128.9 345.4M132.1 342.6L133.5 344L132.1 345.4M135.2 342.6L136.6 344L135.2 345.4M138.4 342.6L139.8 344L138.4 345.4M141.5 342.6L142.9 344L141.5 345.4M144.7 342.6L146.1 344L144.7 345.4M147.8 342.6L149.2 344L147.8 345.4M151.0 342.6L152.4 344L151.0 345.4M154.1 342.6L155.5 344L154.1 345.4M157.3 342.6L158.7 344L157.3 345.4M160.4 342.6L161.8 344L160.4 345.4M163.6 342.6L165.0 344L163.6 345.4M166.7 342.6L168.1 344L166.7 345.4M169.9 342.6L171.3 344L169.9 345.4M173.0 342.6L174.4 344L173.0 345.4M176.2 342.6L177.6 344L176.2 345.4M179.3 342.6L180.7 344L179.3 345.4M182.5 342.6L183.9 344L182.5 345.4M185.6 342.6L187.0 344L185.6 345.4M188.8 342.6L190.2 344L188.8 345.4M191.9 342.6L193.3 344L191.9 345.4M195.1 342.6L196.5 344L195.1 345.4M198.2 342.6L199.6 344L198.2 345.4M201.4 342.6L202.8 344L201.4 345.4M204.5 342.6L205.9 344L204.5 345.4M207.7 342.6L209.1 344L207.7 345.4M210.8 342.6L212.2 344L210.8 345.4M214.0 342.6L215.4 344L214.0 345.4M217.1 342.6L218.5 344L217.1 345.4M245.5 342.6L246.9 344L245.5 345.4M248.6 342.6L250.0 344L248.6 345.4M251.8 342.6L253.2 344L251.8 345.4" stroke="#63b6e6" stroke-width="0.75" fill="none" />
<rect x="82.90" y="340.20" width="29.10" height="7.50" fill="#1b7cc2" stroke="none" stroke-width="0.8" />
<rect x="219.80" y="340.20" width="23.60" height="7.50" fill="#1b7cc2" stroke="none" stroke-width="0.8" />
<path d="M85 340.2V347.7M87 340.2V347.7M89.5 340.2V347.7M94 340.2V347.7M96 340.2V347.7M98.5 340.2V347.7M100.5 340.2V347.7M103 340.2V347.7M105 340.2V347.7M107.5 340.2V347.7M109.5 340.2V347.7M222 340.2V347.7M224 340.2V347.7M226.5 340.2V347.7M229 340.2V347.7M231.5 340.2V347.7M233.5 340.2V347.7M238.5 340.2V347.7M240.8 340.2V347.7" stroke="#4aa6de" stroke-width="0.6" fill="none" />
<path d="M92 340.2V347.7M236 340.2V347.7" stroke="#4cc04a" stroke-width="0.9" fill="none" />
<text x="72.20" y="347.70" font-size="10" text-anchor="end" fill="#1b7cc2" textLength="23.70" lengthAdjust="spacingAndGlyphs">RPL3</text>
<text x="80.70" y="361.90" font-size="10" textLength="32.20" lengthAdjust="spacingAndGlyphs">Exon 3</text>
<text x="216.30" y="361.90" font-size="10" textLength="33.00" lengthAdjust="spacingAndGlyphs">Exon 4</text>
<text x="149.00" y="358.90" font-size="10" text-anchor="middle" textLength="23.50" lengthAdjust="spacingAndGlyphs">NMD</text>
<rect x="84.10" y="367.30" width="28.80" height="6.40" fill="#111" stroke="none" stroke-width="0.8" />
<line x1="112.90" y1="370.50" x2="189.20" y2="370.50" stroke="#111" stroke-width="1.6" />
<rect x="189.20" y="367.30" width="30.60" height="6.40" fill="#b3b3b3" stroke="none" stroke-width="0.8" />
<rect x="219.80" y="367.30" width="25.00" height="6.40" fill="#111" stroke="none" stroke-width="0.8" />
<path d="M112.9 367.5L150 360.8L189.2 367.5" stroke="#222" stroke-width="0.8" fill="none" />
<path d="M112.9 373.5L167 381.8L219.8 373.5" stroke="#222" stroke-width="0.8" fill="none" />
<text x="215.30" y="377.40" font-size="12" text-anchor="middle" fill="#e8212b">*</text>
<text x="165.00" y="392.30" font-size="10" text-anchor="middle" textLength="49.00" lengthAdjust="spacingAndGlyphs">Canonical</text>
<text x="2.50" y="420.00" font-size="15" fill="#000" font-weight="bold" textLength="10.00" lengthAdjust="spacingAndGlyphs">e</text>
<rect x="105.60" y="452.60" width="6.83" height="11.40" fill="#d3d3d3" stroke="#707070" stroke-width="0.8" />
<path d="M109.93 458.30H115.27M109.93 455.70V460.90M115.27 455.70V460.90" stroke="#444" stroke-width="0.8" fill="none" />
<circle cx="109.93" cy="458.30" r="2.0" fill="#111" />
<circle cx="112.43" cy="458.30" r="2.0" fill="#111" />
<circle cx="114.94" cy="458.30" r="2.0" fill="#111" />
<text x="100.00" y="461.90" font-size="9.8" text-anchor="end" textLength="98.00" lengthAdjust="spacingAndGlyphs">shScramble (0.42%)</text>
<rect x="105.60" y="466.30" width="9.84" height="11.40" fill="#d3d3d3" stroke="#707070" stroke-width="0.8" />
<path d="M112.60 472.00H118.60M112.60 469.40V474.60M118.60 469.40V474.60" stroke="#444" stroke-width="0.8" fill="none" />
<circle cx="113.10" cy="472.00" r="2.0" fill="#111" />
<circle cx="115.10" cy="472.00" r="2.0" fill="#111" />
<circle cx="118.44" cy="472.00" r="2.0" fill="#111" />
<text x="100.00" y="475.60" font-size="9.8" text-anchor="end" textLength="74.40" lengthAdjust="spacingAndGlyphs">shRPL3 (0.57%)</text>
<rect x="105.60" y="480.20" width="84.35" height="11.40" fill="#d3d3d3" stroke="#707070" stroke-width="0.8" />
<path d="M160.94 485.90H218.96M160.94 483.30V488.50M218.96 483.30V488.50" stroke="#444" stroke-width="0.8" fill="none" />
<circle cx="160.94" cy="485.90" r="2.0" fill="#111" />
<circle cx="189.95" cy="485.90" r="2.0" fill="#111" />
<circle cx="218.62" cy="485.90" r="2.0" fill="#111" />
<text x="100.00" y="489.50" font-size="9.8" text-anchor="end" textLength="50.00" lengthAdjust="spacingAndGlyphs">WT (5.11%)</text>
<rect x="105.60" y="494.00" width="71.01" height="11.40" fill="#d3d3d3" stroke="#707070" stroke-width="0.8" />
<path d="M174.61 499.70H178.95M174.61 497.10V502.30M178.95 497.10V502.30" stroke="#444" stroke-width="0.8" fill="none" />
<circle cx="174.95" cy="499.70" r="2.0" fill="#111" />
<circle cx="176.61" cy="499.70" r="2.0" fill="#111" />
<circle cx="178.45" cy="499.70" r="2.0" fill="#111" />
<text x="100.00" y="503.30" font-size="9.8" text-anchor="end" textLength="58.60" lengthAdjust="spacingAndGlyphs">SNP (4.32%)</text>
<rect x="105.60" y="507.80" width="61.01" height="11.40" fill="#d3d3d3" stroke="#707070" stroke-width="0.8" />
<path d="M146.94 513.50H183.95M146.94 510.90V516.10M183.95 510.90V516.10" stroke="#444" stroke-width="0.8" fill="none" />
<circle cx="146.94" cy="513.50" r="2.0" fill="#111" />
<circle cx="170.61" cy="513.50" r="2.0" fill="#111" />
<circle cx="181.45" cy="513.50" r="2.0" fill="#111" />
<text x="100.00" y="517.10" font-size="9.8" text-anchor="end" textLength="65.60" lengthAdjust="spacingAndGlyphs">G27D (3.68%)</text>
<rect x="105.60" y="521.60" width="70.01" height="11.40" fill="#d3d3d3" stroke="#707070" stroke-width="0.8" />
<path d="M162.94 527.30H187.62M162.94 524.70V529.90M187.62 524.70V529.90" stroke="#444" stroke-width="0.8" fill="none" />
<circle cx="162.94" cy="527.30" r="2.0" fill="#111" />
<circle cx="178.61" cy="527.30" r="2.0" fill="#111" />
<circle cx="185.95" cy="527.30" r="2.0" fill="#111" />
<text x="100.00" y="530.90" font-size="9.8" text-anchor="end" textLength="73.00" lengthAdjust="spacingAndGlyphs">D308N (4.25%)</text>
<rect x="105.60" y="535.50" width="24.00" height="11.40" fill="#d3d3d3" stroke="#707070" stroke-width="0.8" />
<path d="M121.27 541.20H137.94M121.27 538.60V543.80M137.94 538.60V543.80" stroke="#444" stroke-width="0.8" fill="none" />
<circle cx="121.60" cy="541.20" r="2.0" fill="#111" />
<circle cx="128.94" cy="541.20" r="2.0" fill="#111" />
<circle cx="137.61" cy="541.20" r="2.0" fill="#111" />
<text x="100.00" y="544.80" font-size="9.8" text-anchor="end" textLength="68.00" lengthAdjust="spacingAndGlyphs">T189M (1.44%)</text>
<rect x="105.60" y="549.50" width="9.00" height="11.40" fill="#d3d3d3" stroke="#707070" stroke-width="0.8" />
<path d="M110.43 555.20H118.60M110.43 552.60V557.80M118.60 552.60V557.80" stroke="#444" stroke-width="0.8" fill="none" />
<circle cx="110.43" cy="555.20" r="2.0" fill="#111" />
<circle cx="114.60" cy="555.20" r="2.0" fill="#111" />
<circle cx="117.94" cy="555.20" r="2.0" fill="#111" />
<text x="100.00" y="558.80" font-size="9.8" text-anchor="end" textLength="70.60" lengthAdjust="spacingAndGlyphs">R161W (0.54%)</text>
<line x1="105.60" y1="565.60" x2="221.00" y2="565.60" stroke="#8e8e8e" stroke-width="1" />
<line x1="105.60" y1="565.10" x2="105.60" y2="570.00" stroke="#8e8e8e" stroke-width="0.9" />
<text x="105.60" y="581.00" font-size="8.3" text-anchor="middle" textLength="5.20" lengthAdjust="spacingAndGlyphs">0</text>
<line x1="122.27" y1="565.10" x2="122.27" y2="570.00" stroke="#8e8e8e" stroke-width="0.9" />
<text x="122.27" y="581.00" font-size="8.3" text-anchor="middle" textLength="5.20" lengthAdjust="spacingAndGlyphs">1</text>
<line x1="138.94" y1="565.10" x2="138.94" y2="570.00" stroke="#8e8e8e" stroke-width="0.9" />
<text x="138.94" y="581.00" font-size="8.3" text-anchor="middle" textLength="5.20" lengthAdjust="spacingAndGlyphs">2</text>
<line x1="155.61" y1="565.10" x2="155.61" y2="570.00" stroke="#8e8e8e" stroke-width="0.9" />
<text x="155.61" y="581.00" font-size="8.3" text-anchor="middle" textLength="5.20" lengthAdjust="spacingAndGlyphs">3</text>
<line x1="172.28" y1="565.10" x2="172.28" y2="570.00" stroke="#8e8e8e" stroke-width="0.9" />
<text x="172.28" y="581.00" font-size="8.3" text-anchor="middle" textLength="5.20" lengthAdjust="spacingAndGlyphs">4</text>
<line x1="188.95" y1="565.10" x2="188.95" y2="570.00" stroke="#8e8e8e" stroke-width="0.9" />
<text x="188.95" y="581.00" font-size="8.3" text-anchor="middle" textLength="5.20" lengthAdjust="spacingAndGlyphs">5</text>
<line x1="205.62" y1="565.10" x2="205.62" y2="570.00" stroke="#8e8e8e" stroke-width="0.9" />
<text x="205.62" y="581.00" font-size="8.3" text-anchor="middle" textLength="5.20" lengthAdjust="spacingAndGlyphs">6</text>
<text x="163.30" y="597.00" font-size="9.8" text-anchor="middle" textLength="81.40" lengthAdjust="spacingAndGlyphs">Percentage NMD</text>
<text x="163.30" y="609.30" font-size="9.8" text-anchor="middle" textLength="78.00" lengthAdjust="spacingAndGlyphs">(junction reads)</text>
<text x="329.20" y="219.00" font-size="15" fill="#000" font-weight="bold">f</text>
<path d="M383.4 219.40V357.4" stroke="#8e8e8e" stroke-width="1" fill="none" />
<line x1="378.00" y1="357.40" x2="590.50" y2="357.40" stroke="#8e8e8e" stroke-width="1" />
<line x1="377.00" y1="357.40" x2="383.40" y2="357.40" stroke="#8e8e8e" stroke-width="0.9" />
<text x="372.00" y="360.40" font-size="8.5" text-anchor="end" textLength="5.00" lengthAdjust="spacingAndGlyphs">0</text>
<line x1="377.00" y1="311.40" x2="383.40" y2="311.40" stroke="#8e8e8e" stroke-width="0.9" />
<text x="372.00" y="314.40" font-size="8.5" text-anchor="end" textLength="11.40" lengthAdjust="spacingAndGlyphs">0.5</text>
<line x1="377.00" y1="265.40" x2="383.40" y2="265.40" stroke="#8e8e8e" stroke-width="0.9" />
<text x="372.00" y="268.40" font-size="8.5" text-anchor="end" textLength="11.40" lengthAdjust="spacingAndGlyphs">1.0</text>
<line x1="377.00" y1="219.40" x2="383.40" y2="219.40" stroke="#8e8e8e" stroke-width="0.9" />
<text x="372.00" y="222.40" font-size="8.5" text-anchor="end" textLength="11.40" lengthAdjust="spacingAndGlyphs">1.5</text>
<rect x="388.50" y="265.40" width="9.20" height="92.00" fill="#fff" stroke="#888" stroke-width="0.8" />
<path d="M393.10 256.20V274.60M390.60 256.20H395.60M390.60 274.60H395.60" stroke="#777" stroke-width="0.8" fill="none" />
<rect x="403.70" y="283.80" width="9.20" height="73.60" fill="#fff" stroke="#888" stroke-width="0.8" />
<path d="M408.30 277.36V289.32M405.80 277.36H410.80M405.80 289.32H410.80" stroke="#777" stroke-width="0.8" fill="none" />
<rect x="418.90" y="304.04" width="9.20" height="53.36" fill="#fff" stroke="#888" stroke-width="0.8" />
<path d="M423.50 301.28V306.80M421.00 301.28H426.00M421.00 306.80H426.00" stroke="#777" stroke-width="0.8" fill="none" />
<rect x="434.10" y="310.02" width="9.20" height="47.38" fill="#fff" stroke="#888" stroke-width="0.8" />
<path d="M438.70 306.80V312.32M436.20 306.80H441.20M436.20 312.32H441.20" stroke="#777" stroke-width="0.8" fill="none" />
<rect x="459.50" y="265.40" width="9.20" height="92.00" fill="#fff" stroke="#888" stroke-width="0.8" />
<path d="M464.10 257.12V273.68M461.60 257.12H466.60M461.60 273.68H466.60" stroke="#777" stroke-width="0.8" fill="none" />
<rect x="474.70" y="282.88" width="9.20" height="74.52" fill="#fff" stroke="#888" stroke-width="0.8" />
<path d="M479.30 279.20V285.64M476.80 279.20H481.80M476.80 285.64H481.80" stroke="#777" stroke-width="0.8" fill="none" />
<rect x="489.50" y="278.74" width="9.20" height="78.66" fill="#fff" stroke="#888" stroke-width="0.8" />
<path d="M494.10 275.52V282.88M491.60 275.52H496.60M491.60 282.88H496.60" stroke="#777" stroke-width="0.8" fill="none" />
<rect x="504.30" y="279.20" width="9.20" height="78.20" fill="#fff" stroke="#888" stroke-width="0.8" />
<path d="M508.90 276.44V282.88M506.40 276.44H511.40M506.40 282.88H511.40" stroke="#777" stroke-width="0.8" fill="none" />
<rect x="530.10" y="265.40" width="9.20" height="92.00" fill="#fff" stroke="#888" stroke-width="0.8" />
<path d="M534.70 256.20V274.60M532.20 256.20H537.20M532.20 274.60H537.20" stroke="#777" stroke-width="0.8" fill="none" />
<rect x="544.90" y="281.04" width="9.20" height="76.36" fill="#fff" stroke="#888" stroke-width="0.8" />
<path d="M549.50 276.44V285.64M547.00 276.44H552.00M547.00 285.64H552.00" stroke="#777" stroke-width="0.8" fill="none" />
<rect x="560.40" y="279.66" width="9.20" height="77.74" fill="#fff" stroke="#888" stroke-width="0.8" />
<path d="M565.00 278.28V281.04M562.50 278.28H567.50M562.50 281.04H567.50" stroke="#777" stroke-width="0.8" fill="none" />
<rect x="575.60" y="285.18" width="9.20" height="72.22" fill="#fff" stroke="#888" stroke-width="0.8" />
<path d="M580.20 278.28V292.08M577.70 278.28H582.70M577.70 292.08H582.70" stroke="#777" stroke-width="0.8" fill="none" />
<circle cx="393.10" cy="255.00" r="2.9" fill="#b3202c" />
<circle cx="390.50" cy="272.90" r="2.9" fill="#b3202c" />
<circle cx="395.80" cy="269.10" r="2.9" fill="#b3202c" />
<circle cx="408.30" cy="273.60" r="2.9" fill="#28693a" />
<circle cx="405.70" cy="287.30" r="2.9" fill="#28693a" />
<circle cx="410.20" cy="285.80" r="2.9" fill="#28693a" />
<circle cx="420.80" cy="301.70" r="2.9" fill="#1e8caf" />
<circle cx="425.80" cy="303.60" r="2.9" fill="#1e8caf" />
<circle cx="421.20" cy="307.80" r="2.9" fill="#1e8caf" />
<circle cx="438.70" cy="305.50" r="2.9" fill="#48206e" />
<circle cx="436.00" cy="312.30" r="2.9" fill="#48206e" />
<circle cx="441.30" cy="311.20" r="2.9" fill="#48206e" />
<circle cx="464.10" cy="257.30" r="2.9" fill="#b3202c" />
<circle cx="464.10" cy="266.80" r="2.9" fill="#b3202c" />
<circle cx="464.10" cy="273.20" r="2.9" fill="#b3202c" />
<circle cx="479.30" cy="275.50" r="2.9" fill="#28693a" />
<circle cx="476.60" cy="284.30" r="2.9" fill="#28693a" />
<circle cx="481.60" cy="283.90" r="2.9" fill="#28693a" />
<circle cx="491.80" cy="277.00" r="2.9" fill="#1e8caf" />
<circle cx="496.40" cy="278.90" r="2.9" fill="#1e8caf" />
<circle cx="491.80" cy="283.50" r="2.9" fill="#1e8caf" />
<circle cx="509.30" cy="274.00" r="2.9" fill="#48206e" />
<circle cx="506.60" cy="281.20" r="2.9" fill="#48206e" />
<circle cx="511.90" cy="279.70" r="2.9" fill="#48206e" />
<circle cx="534.70" cy="256.90" r="2.9" fill="#b3202c" />
<circle cx="534.70" cy="266.00" r="2.9" fill="#b3202c" />
<circle cx="534.70" cy="274.80" r="2.9" fill="#b3202c" />
<circle cx="547.20" cy="276.30" r="2.9" fill="#28693a" />
<circle cx="552.10" cy="280.10" r="2.9" fill="#28693a" />
<circle cx="547.60" cy="285.00" r="2.9" fill="#28693a" />
<circle cx="563.20" cy="281.60" r="2.9" fill="#1e8caf" />
<circle cx="567.30" cy="279.70" r="2.9" fill="#1e8caf" />
<circle cx="565.40" cy="279.30" r="2.9" fill="#1e8caf" />
<circle cx="580.20" cy="277.40" r="2.9" fill="#48206e" />
<circle cx="580.20" cy="286.10" r="2.9" fill="#48206e" />
<circle cx="580.20" cy="291.80" r="2.9" fill="#48206e" />
<path d="M392.5 246.4V238H439V296.6" stroke="#555" stroke-width="0.8" fill="none" />
<path d="M463.7 248V238H509.6V265" stroke="#555" stroke-width="0.8" fill="none" />
<path d="M534.7 248V238H580.6V268" stroke="#555" stroke-width="0.8" fill="none" />
<text x="415.80" y="231.60" font-size="8.5" text-anchor="middle" textLength="33.60" lengthAdjust="spacingAndGlyphs">&lt;0.0001</text>
<text x="486.70" y="231.60" font-size="8.5" text-anchor="middle" textLength="29.40" lengthAdjust="spacingAndGlyphs">0.0538</text>
<text x="557.30" y="231.60" font-size="8.5" text-anchor="middle" textLength="28.60" lengthAdjust="spacingAndGlyphs">0.0031</text>
<line x1="415.10" y1="357.40" x2="415.10" y2="361.40" stroke="#8e8e8e" stroke-width="0.9" />
<text x="415.10" y="374.80" font-size="8.3" text-anchor="middle" font-style="italic">RPL3</text>
<line x1="486.90" y1="357.40" x2="486.90" y2="361.40" stroke="#8e8e8e" stroke-width="0.9" />
<text x="486.90" y="374.80" font-size="8.3" text-anchor="middle" font-style="italic">RPL4</text>
<line x1="557.50" y1="357.40" x2="557.50" y2="361.40" stroke="#8e8e8e" stroke-width="0.9" />
<text x="557.50" y="374.80" font-size="8.3" text-anchor="middle" font-style="italic">RPL10A</text>
<text transform="translate(339.8 288.5) rotate(-90)" font-size="9.6" text-anchor="middle" textLength="121" lengthAdjust="spacingAndGlyphs">mRNA relative to <tspan font-style="italic">GAPDH</tspan></text>
<text transform="translate(351.3 289) rotate(-90)" font-size="9.6" text-anchor="middle" textLength="114" lengthAdjust="spacingAndGlyphs">(normalized to no DOX)</text>
<circle cx="599.20" cy="288.10" r="3.0" fill="#b3202c" />
<text x="607.90" y="290.70" font-size="8.6" textLength="33.00" lengthAdjust="spacingAndGlyphs">No DOX</text>
<circle cx="599.20" cy="300.40" r="3.0" fill="#28693a" />
<text x="607.90" y="303.00" font-size="8.6" textLength="36.50" lengthAdjust="spacingAndGlyphs">10 ng ml</text>
<text x="644.70" y="299.20" font-size="5.5">−1</text>
<circle cx="599.20" cy="312.60" r="3.0" fill="#1e8caf" />
<text x="607.90" y="315.20" font-size="8.6" textLength="41.50" lengthAdjust="spacingAndGlyphs">100 ng ml</text>
<text x="649.70" y="311.40" font-size="5.5">−1</text>
<circle cx="599.20" cy="324.90" r="3.0" fill="#48206e" />
<text x="607.90" y="327.50" font-size="8.6" textLength="49.50" lengthAdjust="spacingAndGlyphs">1,000 ng ml</text>
<text x="657.70" y="323.70" font-size="5.5">−1</text>
<text x="246.80" y="419.60" font-size="15" fill="#000" font-weight="bold" textLength="10.00" lengthAdjust="spacingAndGlyphs">g</text>
<path d="M289.6 441.40V563" stroke="#8e8e8e" stroke-width="1" fill="none" />
<line x1="284.40" y1="563.00" x2="289.60" y2="563.00" stroke="#8e8e8e" stroke-width="0.9" />
<text x="281.00" y="566.00" font-size="8.5" text-anchor="end" textLength="4.80" lengthAdjust="spacingAndGlyphs">0</text>
<line x1="284.40" y1="532.60" x2="289.60" y2="532.60" stroke="#8e8e8e" stroke-width="0.9" />
<text x="281.00" y="535.60" font-size="8.5" text-anchor="end" textLength="19.00" lengthAdjust="spacingAndGlyphs">0.02</text>
<line x1="284.40" y1="502.20" x2="289.60" y2="502.20" stroke="#8e8e8e" stroke-width="0.9" />
<text x="281.00" y="505.20" font-size="8.5" text-anchor="end" textLength="19.00" lengthAdjust="spacingAndGlyphs">0.04</text>
<line x1="284.40" y1="471.80" x2="289.60" y2="471.80" stroke="#8e8e8e" stroke-width="0.9" />
<text x="281.00" y="474.80" font-size="8.5" text-anchor="end" textLength="19.00" lengthAdjust="spacingAndGlyphs">0.06</text>
<line x1="284.40" y1="441.40" x2="289.60" y2="441.40" stroke="#8e8e8e" stroke-width="0.9" />
<text x="281.00" y="444.40" font-size="8.5" text-anchor="end" textLength="19.00" lengthAdjust="spacingAndGlyphs">0.08</text>
<line x1="301.00" y1="563.00" x2="301.00" y2="567.00" stroke="#8e8e8e" stroke-width="0.9" />
<rect x="291.80" y="546.83" width="4.40" height="16.17" fill="#ededed" stroke="#808080" stroke-width="0.8" />
<rect x="298.80" y="542.79" width="4.40" height="20.21" fill="#ededed" stroke="#808080" stroke-width="0.8" />
<rect x="305.90" y="478.79" width="4.40" height="84.21" fill="#ededed" stroke="#808080" stroke-width="0.8" />
<line x1="327.60" y1="563.00" x2="327.60" y2="567.00" stroke="#8e8e8e" stroke-width="0.9" />
<rect x="318.40" y="546.83" width="4.40" height="16.17" fill="#ededed" stroke="#808080" stroke-width="0.8" />
<rect x="325.40" y="542.79" width="4.40" height="20.21" fill="#ededed" stroke="#808080" stroke-width="0.8" />
<rect x="332.50" y="510.12" width="4.40" height="52.88" fill="#ededed" stroke="#808080" stroke-width="0.8" />
<line x1="353.80" y1="563.00" x2="353.80" y2="567.00" stroke="#8e8e8e" stroke-width="0.9" />
<rect x="344.60" y="560.31" width="4.40" height="2.69" fill="#ededed" stroke="#808080" stroke-width="0.8" />
<rect x="351.60" y="548.52" width="4.40" height="14.48" fill="#ededed" stroke="#808080" stroke-width="0.8" />
<rect x="358.70" y="551.21" width="4.40" height="11.79" fill="#ededed" stroke="#808080" stroke-width="0.8" />
<line x1="380.30" y1="563.00" x2="380.30" y2="567.00" stroke="#8e8e8e" stroke-width="0.9" />
<rect x="371.10" y="561.65" width="4.40" height="1.35" fill="#ededed" stroke="#808080" stroke-width="0.8" />
<rect x="378.10" y="553.91" width="4.40" height="9.09" fill="#ededed" stroke="#808080" stroke-width="0.8" />
<rect x="385.20" y="555.25" width="4.40" height="7.75" fill="#ededed" stroke="#808080" stroke-width="0.8" />
<line x1="406.50" y1="563.00" x2="406.50" y2="567.00" stroke="#8e8e8e" stroke-width="0.9" />
<rect x="397.30" y="544.47" width="4.40" height="18.53" fill="#ededed" stroke="#808080" stroke-width="0.8" />
<rect x="404.30" y="543.46" width="4.40" height="19.54" fill="#ededed" stroke="#808080" stroke-width="0.8" />
<rect x="411.40" y="526.96" width="4.40" height="36.04" fill="#ededed" stroke="#808080" stroke-width="0.8" />
<line x1="433.00" y1="563.00" x2="433.00" y2="567.00" stroke="#8e8e8e" stroke-width="0.9" />
<rect x="423.80" y="548.52" width="4.40" height="14.48" fill="#ededed" stroke="#808080" stroke-width="0.8" />
<rect x="430.80" y="537.74" width="4.40" height="25.26" fill="#ededed" stroke="#808080" stroke-width="0.8" />
<rect x="437.90" y="545.15" width="4.40" height="17.85" fill="#ededed" stroke="#808080" stroke-width="0.8" />
<line x1="459.50" y1="563.00" x2="459.50" y2="567.00" stroke="#8e8e8e" stroke-width="0.9" />
<rect x="450.30" y="524.26" width="4.40" height="38.74" fill="#ededed" stroke="#808080" stroke-width="0.8" />
<rect x="457.30" y="544.47" width="4.40" height="18.53" fill="#ededed" stroke="#808080" stroke-width="0.8" />
<rect x="464.40" y="531.00" width="4.40" height="32.00" fill="#ededed" stroke="#808080" stroke-width="0.8" />
<g opacity="0.6">
<path d="M294.00 532.68V563.00M292.40 532.68H295.60M292.40 563.00H295.60" stroke="#b3202c" stroke-width="0.7" fill="none" />
</g>
<g opacity="0.6">
<path d="M301.00 529.32V557.95M299.40 529.32H302.60M299.40 557.95H302.60" stroke="#1f6b3a" stroke-width="0.7" fill="none" />
</g>
<g opacity="0.6">
<path d="M308.10 469.36V488.89M306.50 469.36H309.70M306.50 488.89H309.70" stroke="#5e1a6e" stroke-width="0.7" fill="none" />
</g>
<g opacity="0.6">
<path d="M320.60 532.01V563.00M319.00 532.01H322.20M319.00 563.00H322.20" stroke="#b3202c" stroke-width="0.7" fill="none" />
</g>
<g opacity="0.6">
<path d="M327.60 529.32V561.32M326.00 529.32H329.20M326.00 561.32H329.20" stroke="#1f6b3a" stroke-width="0.7" fill="none" />
</g>
<g opacity="0.6">
<path d="M334.70 494.96V525.95M333.10 494.96H336.30M333.10 525.95H336.30" stroke="#5e1a6e" stroke-width="0.7" fill="none" />
</g>
<g opacity="0.6">
<path d="M353.80 544.47V552.89M352.20 544.47H355.40M352.20 552.89H355.40" stroke="#1f6b3a" stroke-width="0.7" fill="none" />
</g>
<g opacity="0.6">
<path d="M380.30 551.88V555.93M378.70 551.88H381.90M378.70 555.93H381.90" stroke="#1f6b3a" stroke-width="0.7" fill="none" />
</g>
<g opacity="0.6">
<path d="M387.40 551.88V558.62M385.80 551.88H389.00M385.80 558.62H389.00" stroke="#5e1a6e" stroke-width="0.7" fill="none" />
</g>
<g opacity="0.6">
<path d="M399.50 529.32V563.00M397.90 529.32H401.10M397.90 563.00H401.10" stroke="#b3202c" stroke-width="0.7" fill="none" />
</g>
<g opacity="0.6">
<path d="M406.50 536.05V551.21M404.90 536.05H408.10M404.90 551.21H408.10" stroke="#1f6b3a" stroke-width="0.7" fill="none" />
</g>
<g opacity="0.6">
<path d="M413.60 517.53V537.06M412.00 517.53H415.20M412.00 537.06H415.20" stroke="#5e1a6e" stroke-width="0.7" fill="none" />
</g>
<g opacity="0.6">
<path d="M426.00 539.42V557.95M424.40 539.42H427.60M424.40 557.95H427.60" stroke="#b3202c" stroke-width="0.7" fill="none" />
</g>
<g opacity="0.6">
<path d="M433.00 524.26V551.21M431.40 524.26H434.60M431.40 551.21H434.60" stroke="#1f6b3a" stroke-width="0.7" fill="none" />
</g>
<g opacity="0.6">
<path d="M440.10 543.46V546.83M438.50 543.46H441.70M438.50 546.83H441.70" stroke="#5e1a6e" stroke-width="0.7" fill="none" />
</g>
<g opacity="0.6">
<path d="M452.50 493.95V554.58M450.90 493.95H454.10M450.90 554.58H454.10" stroke="#b3202c" stroke-width="0.7" fill="none" />
</g>
<g opacity="0.6">
<path d="M459.50 539.42V549.53M457.90 539.42H461.10M457.90 549.53H461.10" stroke="#1f6b3a" stroke-width="0.7" fill="none" />
</g>
<g opacity="0.6">
<path d="M466.60 510.12V552.89M465.00 510.12H468.20M465.00 552.89H468.20" stroke="#5e1a6e" stroke-width="0.7" fill="none" />
</g>
<line x1="289.60" y1="563.00" x2="471.60" y2="563.00" stroke="#111" stroke-width="1.1" stroke-dasharray="1.2 1.6"/>
<circle cx="294.00" cy="520.22" r="2.7" fill="#b3202c" />
<circle cx="294.00" cy="554.58" r="2.7" fill="#b3202c" />
<circle cx="294.00" cy="563.00" r="2.7" fill="#b3202c" />
<circle cx="301.00" cy="517.53" r="2.7" fill="#1f6b3a" />
<circle cx="301.00" cy="551.88" r="2.7" fill="#1f6b3a" />
<circle cx="301.00" cy="556.26" r="2.7" fill="#1f6b3a" />
<circle cx="308.10" cy="461.61" r="2.7" fill="#5e1a6e" />
<circle cx="308.10" cy="482.16" r="2.7" fill="#5e1a6e" />
<circle cx="308.10" cy="490.92" r="2.7" fill="#5e1a6e" />
<circle cx="320.60" cy="521.57" r="2.7" fill="#b3202c" />
<circle cx="320.60" cy="548.85" r="2.7" fill="#b3202c" />
<circle cx="320.60" cy="563.00" r="2.7" fill="#b3202c" />
<circle cx="327.60" cy="531.00" r="2.7" fill="#1f6b3a" />
<circle cx="327.60" cy="531.67" r="2.7" fill="#1f6b3a" />
<circle cx="327.60" cy="563.00" r="2.7" fill="#1f6b3a" />
<circle cx="334.70" cy="482.83" r="2.7" fill="#5e1a6e" />
<circle cx="334.70" cy="513.15" r="2.7" fill="#5e1a6e" />
<circle cx="334.70" cy="532.68" r="2.7" fill="#5e1a6e" />
<circle cx="346.80" cy="559.63" r="2.7" fill="#b3202c" />
<circle cx="346.80" cy="560.64" r="2.7" fill="#b3202c" />
<circle cx="353.80" cy="543.46" r="2.7" fill="#1f6b3a" />
<circle cx="353.80" cy="548.52" r="2.7" fill="#1f6b3a" />
<circle cx="353.80" cy="553.57" r="2.7" fill="#1f6b3a" />
<circle cx="360.90" cy="550.54" r="2.7" fill="#5e1a6e" />
<circle cx="360.90" cy="551.55" r="2.7" fill="#5e1a6e" />
<circle cx="373.30" cy="561.32" r="2.7" fill="#b3202c" />
<circle cx="373.30" cy="561.99" r="2.7" fill="#b3202c" />
<circle cx="380.30" cy="551.88" r="2.7" fill="#1f6b3a" />
<circle cx="380.30" cy="553.91" r="2.7" fill="#1f6b3a" />
<circle cx="380.30" cy="556.26" r="2.7" fill="#1f6b3a" />
<circle cx="387.40" cy="550.54" r="2.7" fill="#5e1a6e" />
<circle cx="387.40" cy="556.60" r="2.7" fill="#5e1a6e" />
<circle cx="387.40" cy="558.28" r="2.7" fill="#5e1a6e" />
<circle cx="399.50" cy="516.85" r="2.7" fill="#b3202c" />
<circle cx="399.50" cy="550.54" r="2.7" fill="#b3202c" />
<circle cx="399.50" cy="563.00" r="2.7" fill="#b3202c" />
<circle cx="406.50" cy="532.01" r="2.7" fill="#1f6b3a" />
<circle cx="406.50" cy="545.82" r="2.7" fill="#1f6b3a" />
<circle cx="406.50" cy="552.22" r="2.7" fill="#1f6b3a" />
<circle cx="413.60" cy="508.09" r="2.7" fill="#5e1a6e" />
<circle cx="413.60" cy="535.38" r="2.7" fill="#5e1a6e" />
<circle cx="413.60" cy="536.05" r="2.7" fill="#5e1a6e" />
<circle cx="426.00" cy="532.35" r="2.7" fill="#b3202c" />
<circle cx="426.00" cy="550.54" r="2.7" fill="#b3202c" />
<circle cx="426.00" cy="563.00" r="2.7" fill="#b3202c" />
<circle cx="433.00" cy="512.47" r="2.7" fill="#1f6b3a" />
<circle cx="433.00" cy="545.82" r="2.7" fill="#1f6b3a" />
<circle cx="433.00" cy="551.21" r="2.7" fill="#1f6b3a" />
<circle cx="440.10" cy="543.46" r="2.7" fill="#5e1a6e" />
<circle cx="440.10" cy="545.15" r="2.7" fill="#5e1a6e" />
<circle cx="440.10" cy="546.83" r="2.7" fill="#5e1a6e" />
<circle cx="452.50" cy="465.65" r="2.7" fill="#b3202c" />
<circle cx="452.50" cy="542.79" r="2.7" fill="#b3202c" />
<circle cx="452.50" cy="563.00" r="2.7" fill="#b3202c" />
<circle cx="459.50" cy="537.74" r="2.7" fill="#1f6b3a" />
<circle cx="459.50" cy="546.16" r="2.7" fill="#1f6b3a" />
<circle cx="459.50" cy="548.85" r="2.7" fill="#1f6b3a" />
<circle cx="466.60" cy="490.58" r="2.7" fill="#5e1a6e" />
<circle cx="466.60" cy="544.47" r="2.7" fill="#5e1a6e" />
<circle cx="466.60" cy="555.59" r="2.7" fill="#5e1a6e" />
<path d="M300.7 508.4V441.4H308.5V449" stroke="#555" stroke-width="0.8" fill="none" />
<path d="M327.4 525.6V459H334.6V473" stroke="#555" stroke-width="0.8" fill="none" />
<text x="304.90" y="436.40" font-size="8.5" text-anchor="middle" textLength="17.00" lengthAdjust="spacingAndGlyphs">0.01</text>
<text x="331.80" y="453.00" font-size="8.5" text-anchor="middle" textLength="16.40" lengthAdjust="spacingAndGlyphs">0.15</text>
<circle cx="367.20" cy="421.70" r="2.5" fill="#b3202c" />
<text x="377" y="425.50" font-size="8.4" textLength="85" lengthAdjust="spacingAndGlyphs">RPL3L<tspan font-size="5.5" dy="-3">−</tspan><tspan dy="3">, RPL3L/HA IP</tspan></text>
<circle cx="367.20" cy="434.40" r="2.5" fill="#1f6b3a" />
<text x="377" y="438.20" font-size="8.4" textLength="85" lengthAdjust="spacingAndGlyphs">RPL3L<tspan font-size="5.5" dy="-3">+</tspan><tspan dy="3">, mock/IgG IP</tspan></text>
<circle cx="367.20" cy="447.30" r="2.5" fill="#5e1a6e" />
<text x="377" y="451.10" font-size="8.4" textLength="85" lengthAdjust="spacingAndGlyphs">RPL3L<tspan font-size="5.5" dy="-3">+</tspan><tspan dy="3">, RPL3L/HA IP</tspan></text>
<text transform="translate(255.6 505.5) rotate(-90)" font-size="10" text-anchor="middle" textLength="37.8" lengthAdjust="spacingAndGlyphs">IP/input</text>
<text x="303.00" y="576" font-size="9" text-anchor="end" transform="rotate(-45 303.00 576)"><tspan font-style="italic">RPL3</tspan> intron 3-1</text>
<text x="329.60" y="576" font-size="9" text-anchor="end" transform="rotate(-45 329.60 576)"><tspan font-style="italic">RPL3</tspan> intron 3-2</text>
<text x="355.80" y="576" font-size="9" text-anchor="end" transform="rotate(-45 355.80 576)"><tspan font-style="italic">RPL3</tspan> exon 8</text>
<text x="382.30" y="576" font-size="9" text-anchor="end" transform="rotate(-45 382.30 576)"><tspan font-style="italic">GAPDH</tspan> exon</text>
<text x="408.50" y="576" font-size="9" text-anchor="end" transform="rotate(-45 408.50 576)"><tspan font-style="italic">RPL3</tspan> NMD exon</text>
<text x="435.00" y="576" font-size="9" text-anchor="end" transform="rotate(-45 435.00 576)"><tspan font-style="italic">SNORA10</tspan></text>
<text x="461.50" y="576" font-size="9" text-anchor="end" transform="rotate(-45 461.50 576)"><tspan font-style="italic">GAPDH</tspan> intron 2</text>
<text x="503.80" y="419.60" font-size="15" fill="#000" font-weight="bold" textLength="9.60" lengthAdjust="spacingAndGlyphs">h</text>
<path d="M536.4 419.6V560H676.7" stroke="#8e8e8e" stroke-width="1" fill="none" />
<line x1="531.00" y1="542.00" x2="536.40" y2="542.00" stroke="#8e8e8e" stroke-width="0.9" />
<text x="526.00" y="545.20" font-size="8.8" text-anchor="end" textLength="5.40" lengthAdjust="spacingAndGlyphs">1</text>
<line x1="531.00" y1="513.60" x2="536.40" y2="513.60" stroke="#8e8e8e" stroke-width="0.9" />
<text x="526.00" y="516.80" font-size="8.8" text-anchor="end" textLength="5.40" lengthAdjust="spacingAndGlyphs">2</text>
<line x1="531.00" y1="485.20" x2="536.40" y2="485.20" stroke="#8e8e8e" stroke-width="0.9" />
<text x="526.00" y="488.40" font-size="8.8" text-anchor="end" textLength="5.40" lengthAdjust="spacingAndGlyphs">3</text>
<line x1="531.00" y1="456.80" x2="536.40" y2="456.80" stroke="#8e8e8e" stroke-width="0.9" />
<text x="526.00" y="460.00" font-size="8.8" text-anchor="end" textLength="5.40" lengthAdjust="spacingAndGlyphs">4</text>
<line x1="531.00" y1="428.40" x2="536.40" y2="428.40" stroke="#8e8e8e" stroke-width="0.9" />
<text x="526.00" y="431.60" font-size="8.8" text-anchor="end" textLength="5.40" lengthAdjust="spacingAndGlyphs">5</text>
<line x1="554.40" y1="560.00" x2="554.40" y2="564.00" stroke="#8e8e8e" stroke-width="0.9" />
<text x="554.40" y="576.80" font-size="8.7" text-anchor="middle" textLength="23.00" lengthAdjust="spacingAndGlyphs">1,000</text>
<line x1="585.95" y1="560.00" x2="585.95" y2="564.00" stroke="#8e8e8e" stroke-width="0.9" />
<text x="585.95" y="576.80" font-size="8.7" text-anchor="middle" textLength="23.00" lengthAdjust="spacingAndGlyphs">1,500</text>
<line x1="617.50" y1="560.00" x2="617.50" y2="564.00" stroke="#8e8e8e" stroke-width="0.9" />
<text x="617.50" y="576.80" font-size="8.7" text-anchor="middle" textLength="23.00" lengthAdjust="spacingAndGlyphs">2,000</text>
<line x1="649.05" y1="560.00" x2="649.05" y2="564.00" stroke="#8e8e8e" stroke-width="0.9" />
<text x="649.05" y="576.80" font-size="8.7" text-anchor="middle" textLength="23.00" lengthAdjust="spacingAndGlyphs">2,500</text>
<line x1="536.40" y1="435.00" x2="624.00" y2="560.00" stroke="#c6c6c6" stroke-width="1.1" stroke-dasharray="7.4 7.2" stroke-dashoffset="4"/>
<circle cx="541.30" cy="425.00" r="2.4" fill="#111" />
<circle cx="549.60" cy="447.70" r="2.4" fill="#111" />
<circle cx="550.50" cy="449.70" r="2.4" fill="#111" />
<circle cx="548.50" cy="465.70" r="2.4" fill="#111" />
<circle cx="583.50" cy="529.50" r="2.4" fill="#111" />
<circle cx="630.40" cy="555.30" r="2.4" fill="#111" />
<text x="548.00" y="428.00" font-size="8.3" textLength="12.60" lengthAdjust="spacingAndGlyphs">WT</text>
<text x="554.00" y="442.00" font-size="8.3" textLength="16.60" lengthAdjust="spacingAndGlyphs">SNP</text>
<text x="558.00" y="455.00" font-size="8.3" textLength="29.40" lengthAdjust="spacingAndGlyphs">D308N</text>
<text x="565.00" y="469.20" font-size="8.3" textLength="22.40" lengthAdjust="spacingAndGlyphs">G27D</text>
<text x="604.00" y="526.00" font-size="8.3" textLength="26.40" lengthAdjust="spacingAndGlyphs">T189M</text>
<text x="637.40" y="557.60" font-size="8.3" textLength="25.60" lengthAdjust="spacingAndGlyphs">R161W</text>
<text x="620.6" y="437.6" font-size="8.3" textLength="38" lengthAdjust="spacingAndGlyphs"><tspan font-style="italic">R</tspan> = −0.94</text>
<text x="620.6" y="450.6" font-size="8.3" textLength="39" lengthAdjust="spacingAndGlyphs"><tspan font-style="italic">P</tspan> = 0.005</text>
<text transform="translate(512.4 490.2) rotate(-90)" font-size="10" text-anchor="middle" textLength="82.4" lengthAdjust="spacingAndGlyphs">Percentage NMD</text>
<text x="606.5" y="592.2" font-size="9.6" text-anchor="middle" textLength="112" lengthAdjust="spacingAndGlyphs"><tspan font-style="italic">RPL3</tspan> expression (TPM)</text>
<text x="2.20" y="649.60" font-size="15" fill="#000" font-weight="bold">i</text>
<rect x="45.00" y="649.00" width="76.40" height="19.30" fill="#fff" stroke="#999" stroke-width="0.9" />
<text x="82.80" y="662.00" font-size="10.4" text-anchor="middle" textLength="62.40" lengthAdjust="spacingAndGlyphs">Nuclear RNA</text>
<rect x="53.40" y="686.00" width="25.60" height="11.60" fill="#1a1a1a" stroke="none" stroke-width="0.8" />
<rect x="98.00" y="686.00" width="13.60" height="11.60" fill="#b3b3b3" stroke="none" stroke-width="0.8" />
<rect x="111.60" y="686.00" width="25.80" height="11.60" fill="#1a1a1a" stroke="none" stroke-width="0.8" />
<line x1="79.00" y1="692.30" x2="98.00" y2="692.30" stroke="#1a1a1a" stroke-width="1.7" />
<path d="M79 687.4L95.4 679.4L110 686.2" stroke="#222" stroke-width="0.8" fill="none" />
<path d="M79 696.4L89 702L98 697" stroke="#222" stroke-width="0.8" fill="none" />
<text x="66.00" y="695.30" font-size="8.5" text-anchor="middle" fill="#fff">3</text>
<text x="124.50" y="695.30" font-size="8.5" text-anchor="middle" fill="#fff">4</text>
<path d="M59.6 681H71" stroke="#29abe2" stroke-width="0.9" fill="none" />
<path d="M69.6 679.3L73.2 681L69.6 682.7Z" fill="#29abe2"/>
<path d="M132 680.8H120.6" stroke="#29abe2" stroke-width="0.9" fill="none" />
<path d="M122 679.1L118.4 680.8L122 682.5Z" fill="#29abe2"/>
<text x="48.00" y="695.40" font-size="10.3" text-anchor="end" textLength="48.00" lengthAdjust="spacingAndGlyphs">Unspliced</text>
<text x="144.00" y="695.00" font-size="9" textLength="28.00" lengthAdjust="spacingAndGlyphs">759 bp</text>
<rect x="72.00" y="712.40" width="26.00" height="11.60" fill="#1a1a1a" stroke="none" stroke-width="0.8" />
<rect x="98.00" y="712.40" width="14.00" height="11.60" fill="#b3b3b3" stroke="none" stroke-width="0.8" />
<rect x="112.00" y="712.40" width="25.60" height="11.60" fill="#1a1a1a" stroke="none" stroke-width="0.8" />
<text x="85.50" y="721.30" font-size="8.5" text-anchor="middle" fill="#fff">3</text>
<text x="125.50" y="721.30" font-size="8.5" text-anchor="middle" fill="#fff">4</text>
<text x="67.00" y="721.40" font-size="10.3" text-anchor="end" textLength="23.00" lengthAdjust="spacingAndGlyphs">NMD</text>
<text x="144.00" y="721.20" font-size="9" textLength="28.00" lengthAdjust="spacingAndGlyphs">345 bp</text>
<rect x="85.00" y="737.40" width="25.60" height="11.20" fill="#1a1a1a" stroke="none" stroke-width="0.8" />
<rect x="112.00" y="737.40" width="25.60" height="11.20" fill="#1a1a1a" stroke="none" stroke-width="0.8" />
<text x="98.30" y="746.00" font-size="8.5" text-anchor="middle" fill="#fff">3</text>
<text x="125.50" y="746.00" font-size="8.5" text-anchor="middle" fill="#fff">4</text>
<text x="80.00" y="746.00" font-size="10.3" text-anchor="end" textLength="49.00" lengthAdjust="spacingAndGlyphs">Canonical</text>
<text x="144.00" y="746.00" font-size="9" textLength="28.00" lengthAdjust="spacingAndGlyphs">140 bp</text>
<defs><clipPath id="cgel"><rect x="177.4" y="679.6" width="140.7" height="73.3"/></clipPath><filter id="g1" x="-30%" y="-80%" width="160%" height="260%"><feGaussianBlur stdDeviation="1.1"/></filter><filter id="g2" x="-30%" y="-80%" width="160%" height="260%"><feGaussianBlur stdDeviation="2.2"/></filter></defs>
<rect x="177.30" y="679.70" width="140.60" height="73.10" fill="#3a3a3a" stroke="none" stroke-width="0.8" />
<g clip-path="url(#cgel)">
<rect x="299.00" y="676.00" width="24.00" height="80.00" fill="#313131" stroke="none" stroke-width="0.8" filter="url(#g2)"/>
<rect x="179.80" y="676.00" width="16.00" height="80.00" fill="#646464" stroke="none" stroke-width="0.8" opacity="0.5" filter="url(#g1)"/>
<rect x="179.80" y="676.00" width="16.00" height="14.00" fill="#9a9a9a" stroke="none" stroke-width="0.8" opacity="0.55" filter="url(#g2)"/>
<rect x="179.80" y="687.00" width="16.00" height="12.00" fill="#fff" stroke="none" stroke-width="0.8" opacity="0.45" filter="url(#g2)"/>
<rect x="180.00" y="688.00" width="15.60" height="9.60" fill="#fff" stroke="none" stroke-width="0.8" filter="url(#g1)"/>
<rect x="180.60" y="689.40" width="14.40" height="6.80" fill="#fff" stroke="none" stroke-width="0.8" />
<rect x="179.80" y="735.50" width="16.00" height="11.00" fill="#fff" stroke="none" stroke-width="0.8" opacity="0.4" filter="url(#g2)"/>
<rect x="180.00" y="737.00" width="15.60" height="8.60" fill="#fff" stroke="none" stroke-width="0.8" filter="url(#g1)"/>
<rect x="180.60" y="738.40" width="14.40" height="5.80" fill="#fff" stroke="none" stroke-width="0.8" />
<rect x="180.20" y="717.50" width="15.20" height="7.80" fill="#fff" stroke="none" stroke-width="0.8" opacity="0.72" filter="url(#g1)"/>
<rect x="180.20" y="716.00" width="15.20" height="11.00" fill="#fff" stroke="none" stroke-width="0.8" opacity="0.252" filter="url(#g2)"/>
<rect x="198.80" y="676.00" width="16.00" height="80.00" fill="#646464" stroke="none" stroke-width="0.8" opacity="0.5" filter="url(#g1)"/>
<rect x="198.80" y="676.00" width="16.00" height="14.00" fill="#9a9a9a" stroke="none" stroke-width="0.8" opacity="0.55" filter="url(#g2)"/>
<rect x="198.80" y="687.00" width="16.00" height="12.00" fill="#fff" stroke="none" stroke-width="0.8" opacity="0.45" filter="url(#g2)"/>
<rect x="199.00" y="688.00" width="15.60" height="9.60" fill="#fff" stroke="none" stroke-width="0.8" filter="url(#g1)"/>
<rect x="199.60" y="689.40" width="14.40" height="6.80" fill="#fff" stroke="none" stroke-width="0.8" />
<rect x="198.80" y="735.50" width="16.00" height="11.00" fill="#fff" stroke="none" stroke-width="0.8" opacity="0.4" filter="url(#g2)"/>
<rect x="199.00" y="737.00" width="15.60" height="8.60" fill="#fff" stroke="none" stroke-width="0.8" filter="url(#g1)"/>
<rect x="199.60" y="738.40" width="14.40" height="5.80" fill="#fff" stroke="none" stroke-width="0.8" />
<rect x="199.20" y="717.50" width="15.20" height="7.80" fill="#fff" stroke="none" stroke-width="0.8" opacity="0.13" filter="url(#g1)"/>
<rect x="218.30" y="676.00" width="16.00" height="80.00" fill="#646464" stroke="none" stroke-width="0.8" opacity="0.5" filter="url(#g1)"/>
<rect x="218.30" y="676.00" width="16.00" height="14.00" fill="#9a9a9a" stroke="none" stroke-width="0.8" opacity="0.55" filter="url(#g2)"/>
<rect x="218.30" y="687.00" width="16.00" height="12.00" fill="#fff" stroke="none" stroke-width="0.8" opacity="0.45" filter="url(#g2)"/>
<rect x="218.50" y="688.00" width="15.60" height="9.60" fill="#fff" stroke="none" stroke-width="0.8" filter="url(#g1)"/>
<rect x="219.10" y="689.40" width="14.40" height="6.80" fill="#fff" stroke="none" stroke-width="0.8" />
<rect x="218.30" y="735.50" width="16.00" height="11.00" fill="#fff" stroke="none" stroke-width="0.8" opacity="0.4" filter="url(#g2)"/>
<rect x="218.50" y="737.00" width="15.60" height="8.60" fill="#fff" stroke="none" stroke-width="0.8" filter="url(#g1)"/>
<rect x="219.10" y="738.40" width="14.40" height="5.80" fill="#fff" stroke="none" stroke-width="0.8" />
<rect x="218.70" y="717.50" width="15.20" height="7.80" fill="#fff" stroke="none" stroke-width="0.8" opacity="0.75" filter="url(#g1)"/>
<rect x="218.70" y="716.00" width="15.20" height="11.00" fill="#fff" stroke="none" stroke-width="0.8" opacity="0.26249999999999996" filter="url(#g2)"/>
<rect x="237.90" y="676.00" width="16.00" height="80.00" fill="#646464" stroke="none" stroke-width="0.8" opacity="0.5" filter="url(#g1)"/>
<rect x="237.90" y="676.00" width="16.00" height="14.00" fill="#9a9a9a" stroke="none" stroke-width="0.8" opacity="0.55" filter="url(#g2)"/>
<rect x="237.90" y="687.00" width="16.00" height="12.00" fill="#fff" stroke="none" stroke-width="0.8" opacity="0.45" filter="url(#g2)"/>
<rect x="238.10" y="688.00" width="15.60" height="9.60" fill="#fff" stroke="none" stroke-width="0.8" filter="url(#g1)"/>
<rect x="238.70" y="689.40" width="14.40" height="6.80" fill="#fff" stroke="none" stroke-width="0.8" />
<rect x="237.90" y="735.50" width="16.00" height="11.00" fill="#fff" stroke="none" stroke-width="0.8" opacity="0.4" filter="url(#g2)"/>
<rect x="238.10" y="737.00" width="15.60" height="8.60" fill="#fff" stroke="none" stroke-width="0.8" filter="url(#g1)"/>
<rect x="238.70" y="738.40" width="14.40" height="5.80" fill="#fff" stroke="none" stroke-width="0.8" />
<rect x="238.30" y="717.50" width="15.20" height="7.80" fill="#fff" stroke="none" stroke-width="0.8" opacity="0.95" filter="url(#g1)"/>
<rect x="238.30" y="716.00" width="15.20" height="11.00" fill="#fff" stroke="none" stroke-width="0.8" opacity="0.33249999999999996" filter="url(#g2)"/>
<rect x="257.00" y="676.00" width="16.00" height="80.00" fill="#646464" stroke="none" stroke-width="0.8" opacity="0.5" filter="url(#g1)"/>
<rect x="257.00" y="676.00" width="16.00" height="14.00" fill="#9a9a9a" stroke="none" stroke-width="0.8" opacity="0.55" filter="url(#g2)"/>
<rect x="257.00" y="688.60" width="16.00" height="10.40" fill="#fff" stroke="none" stroke-width="0.8" opacity="0.45" filter="url(#g2)"/>
<rect x="257.20" y="689.60" width="15.60" height="8.00" fill="#fff" stroke="none" stroke-width="0.8" filter="url(#g1)"/>
<rect x="257.80" y="691.00" width="14.40" height="5.20" fill="#fff" stroke="none" stroke-width="0.8" />
<rect x="257.00" y="735.50" width="16.00" height="11.00" fill="#fff" stroke="none" stroke-width="0.8" opacity="0.4" filter="url(#g2)"/>
<rect x="257.20" y="737.00" width="15.60" height="8.60" fill="#fff" stroke="none" stroke-width="0.8" filter="url(#g1)"/>
<rect x="257.80" y="738.40" width="14.40" height="5.80" fill="#fff" stroke="none" stroke-width="0.8" />
<rect x="257.40" y="717.50" width="15.20" height="7.80" fill="#fff" stroke="none" stroke-width="0.8" opacity="0.1" filter="url(#g1)"/>
<rect x="277.00" y="676.00" width="16.00" height="80.00" fill="#646464" stroke="none" stroke-width="0.8" opacity="0.5" filter="url(#g1)"/>
<rect x="277.00" y="676.00" width="16.00" height="14.00" fill="#9a9a9a" stroke="none" stroke-width="0.8" opacity="0.55" filter="url(#g2)"/>
<rect x="277.00" y="688.60" width="16.00" height="10.40" fill="#fff" stroke="none" stroke-width="0.8" opacity="0.45" filter="url(#g2)"/>
<rect x="277.20" y="689.60" width="15.60" height="8.00" fill="#fff" stroke="none" stroke-width="0.8" filter="url(#g1)"/>
<rect x="277.80" y="691.00" width="14.40" height="5.20" fill="#fff" stroke="none" stroke-width="0.8" />
<rect x="277.00" y="735.50" width="16.00" height="11.00" fill="#fff" stroke="none" stroke-width="0.8" opacity="0.4" filter="url(#g2)"/>
<rect x="277.20" y="737.00" width="15.60" height="8.60" fill="#fff" stroke="none" stroke-width="0.8" filter="url(#g1)"/>
<rect x="277.80" y="738.40" width="14.40" height="5.80" fill="#fff" stroke="none" stroke-width="0.8" />
<rect x="277.40" y="717.50" width="15.20" height="7.80" fill="#fff" stroke="none" stroke-width="0.8" opacity="0.16" filter="url(#g1)"/>
</g>
<text x="189.30" y="674.70" font-size="9.8" transform="rotate(-45 189.30 674.70)" textLength="15.00" lengthAdjust="spacingAndGlyphs">WT</text>
<text x="208.30" y="674.70" font-size="9.8" transform="rotate(-45 208.30 674.70)" textLength="37.00" lengthAdjust="spacingAndGlyphs">shRPL3</text>
<text x="227.80" y="674.70" font-size="9.8" transform="rotate(-45 227.80 674.70)" textLength="25.50" lengthAdjust="spacingAndGlyphs">G27D</text>
<text x="247.40" y="674.70" font-size="9.8" transform="rotate(-45 247.40 674.70)" textLength="32.00" lengthAdjust="spacingAndGlyphs">D308N</text>
<text x="266.50" y="674.70" font-size="9.8" transform="rotate(-45 266.50 674.70)" textLength="30.50" lengthAdjust="spacingAndGlyphs">R161W</text>
<text x="286.50" y="674.70" font-size="9.8" transform="rotate(-45 286.50 674.70)" textLength="31.00" lengthAdjust="spacingAndGlyphs">T189M</text>
<text x="306.70" y="674.70" font-size="9.8" transform="rotate(-45 306.70 674.70)" textLength="15.50" lengthAdjust="spacingAndGlyphs">-RT</text>
<path d="M378.3 654.00V765.6" stroke="#8e8e8e" stroke-width="1" fill="none" />
<line x1="373.00" y1="765.60" x2="491.00" y2="765.60" stroke="#8e8e8e" stroke-width="1" />
<line x1="373.00" y1="765.60" x2="378.30" y2="765.60" stroke="#8e8e8e" stroke-width="0.9" />
<text x="369.00" y="768.60" font-size="8.6" text-anchor="end" textLength="5.20" lengthAdjust="spacingAndGlyphs">0</text>
<line x1="373.00" y1="743.28" x2="378.30" y2="743.28" stroke="#8e8e8e" stroke-width="0.9" />
<text x="369.00" y="746.28" font-size="8.6" text-anchor="end" textLength="12.00" lengthAdjust="spacingAndGlyphs">0.2</text>
<line x1="373.00" y1="720.96" x2="378.30" y2="720.96" stroke="#8e8e8e" stroke-width="0.9" />
<text x="369.00" y="723.96" font-size="8.6" text-anchor="end" textLength="12.00" lengthAdjust="spacingAndGlyphs">0.4</text>
<line x1="373.00" y1="698.64" x2="378.30" y2="698.64" stroke="#8e8e8e" stroke-width="0.9" />
<text x="369.00" y="701.64" font-size="8.6" text-anchor="end" textLength="12.00" lengthAdjust="spacingAndGlyphs">0.6</text>
<line x1="373.00" y1="676.32" x2="378.30" y2="676.32" stroke="#8e8e8e" stroke-width="0.9" />
<text x="369.00" y="679.32" font-size="8.6" text-anchor="end" textLength="12.00" lengthAdjust="spacingAndGlyphs">0.8</text>
<line x1="373.00" y1="654.00" x2="378.30" y2="654.00" stroke="#8e8e8e" stroke-width="0.9" />
<text x="369.00" y="657.00" font-size="8.6" text-anchor="end" textLength="12.00" lengthAdjust="spacingAndGlyphs">1.0</text>
<rect x="385.10" y="712.03" width="10.20" height="53.57" fill="#fff" stroke="#777" stroke-width="0.8" />
<line x1="390.20" y1="765.60" x2="390.20" y2="769.60" stroke="#8e8e8e" stroke-width="0.9" />
<path d="M390.20 703.10V720.96M387.00 703.10H393.40M387.00 720.96H393.40" stroke="#444" stroke-width="0.8" fill="none" />
<rect x="402.70" y="760.02" width="10.20" height="5.58" fill="#fff" stroke="#777" stroke-width="0.8" />
<line x1="407.80" y1="765.60" x2="407.80" y2="769.60" stroke="#8e8e8e" stroke-width="0.9" />
<rect x="420.50" y="708.68" width="10.20" height="56.92" fill="#fff" stroke="#777" stroke-width="0.8" />
<line x1="425.60" y1="765.60" x2="425.60" y2="769.60" stroke="#8e8e8e" stroke-width="0.9" />
<path d="M425.60 699.76V717.61M422.40 699.76H428.80M422.40 717.61H428.80" stroke="#444" stroke-width="0.8" fill="none" />
<rect x="437.90" y="757.23" width="10.20" height="8.37" fill="#fff" stroke="#777" stroke-width="0.8" />
<line x1="443.00" y1="765.60" x2="443.00" y2="769.60" stroke="#8e8e8e" stroke-width="0.9" />
<path d="M443.00 754.44V759.46M439.80 754.44H446.20M439.80 759.46H446.20" stroke="#444" stroke-width="0.8" fill="none" />
<rect x="455.50" y="756.11" width="10.20" height="9.49" fill="#fff" stroke="#777" stroke-width="0.8" />
<line x1="460.60" y1="765.60" x2="460.60" y2="769.60" stroke="#8e8e8e" stroke-width="0.9" />
<path d="M460.60 752.77V759.46M457.40 752.77H463.80M457.40 759.46H463.80" stroke="#444" stroke-width="0.8" fill="none" />
<rect x="473.40" y="696.41" width="10.20" height="69.19" fill="#fff" stroke="#777" stroke-width="0.8" />
<line x1="478.50" y1="765.60" x2="478.50" y2="769.60" stroke="#8e8e8e" stroke-width="0.9" />
<path d="M478.50 669.51V722.41M475.30 669.51H481.70M475.30 722.41H481.70" stroke="#444" stroke-width="0.8" fill="none" />
<circle cx="386.60" cy="705.50" r="2.5" fill="#111" />
<circle cx="393.50" cy="707.10" r="2.5" fill="#111" />
<circle cx="390.20" cy="721.50" r="2.5" fill="#111" />
<circle cx="404.60" cy="759.50" r="2.5" fill="#111" />
<circle cx="411.30" cy="759.50" r="2.5" fill="#111" />
<circle cx="421.80" cy="701.60" r="2.5" fill="#111" />
<circle cx="429.00" cy="705.20" r="2.5" fill="#111" />
<circle cx="425.40" cy="717.10" r="2.5" fill="#111" />
<circle cx="439.30" cy="754.00" r="2.5" fill="#111" />
<circle cx="439.30" cy="758.40" r="2.5" fill="#111" />
<circle cx="446.20" cy="757.90" r="2.5" fill="#111" />
<circle cx="460.60" cy="751.20" r="2.5" fill="#111" />
<circle cx="457.00" cy="759.50" r="2.5" fill="#111" />
<circle cx="464.20" cy="755.70" r="2.5" fill="#111" />
<circle cx="478.10" cy="676.30" r="2.5" fill="#111" />
<circle cx="478.10" cy="686.30" r="2.5" fill="#111" />
<circle cx="478.10" cy="726.00" r="2.5" fill="#111" />
<path d="M390 658V648.4H478.4V663" stroke="#555" stroke-width="0.8" fill="none" />
<path d="M390 672V665H460.6V746" stroke="#555" stroke-width="0.8" fill="none" />
<path d="M390 696V688.4H407.4V757" stroke="#555" stroke-width="0.8" fill="none" />
<text x="430.70" y="645.00" font-size="8.8" text-anchor="middle" textLength="10.60" lengthAdjust="spacingAndGlyphs">NS</text>
<text x="424.50" y="665.50" font-size="13" text-anchor="middle" textLength="10.20" lengthAdjust="spacingAndGlyphs">**</text>
<text x="400.00" y="688.50" font-size="13" text-anchor="middle" textLength="10.00" lengthAdjust="spacingAndGlyphs">**</text>
<text x="395.80" y="778.60" font-size="8.8" text-anchor="end" transform="rotate(-45 395.80 778.60)" textLength="13.50" lengthAdjust="spacingAndGlyphs">WT</text>
<text x="413.40" y="778.60" font-size="8.8" text-anchor="end" transform="rotate(-45 413.40 778.60)" textLength="33.50" lengthAdjust="spacingAndGlyphs">shRPL3</text>
<text x="431.20" y="778.60" font-size="8.8" text-anchor="end" transform="rotate(-45 431.20 778.60)" textLength="23.50" lengthAdjust="spacingAndGlyphs">G27D</text>
<text x="448.60" y="778.60" font-size="8.8" text-anchor="end" transform="rotate(-45 448.60 778.60)" textLength="28.00" lengthAdjust="spacingAndGlyphs">R161W</text>
<text x="466.20" y="778.60" font-size="8.8" text-anchor="end" transform="rotate(-45 466.20 778.60)" textLength="28.50" lengthAdjust="spacingAndGlyphs">T189M</text>
<text x="484.10" y="778.60" font-size="8.8" text-anchor="end" transform="rotate(-45 484.10 778.60)" textLength="29.50" lengthAdjust="spacingAndGlyphs">D308N</text>
<text transform="translate(334.3 709.9) rotate(-90)" font-size="10" text-anchor="middle" textLength="103" lengthAdjust="spacingAndGlyphs">RPL3 NMD/canonical</text>
<text transform="translate(346.6 710) rotate(-90)" font-size="10" text-anchor="middle" textLength="68" lengthAdjust="spacingAndGlyphs">(nuclear RNA)</text>
<text x="509.00" y="649.60" font-size="15.5" fill="#000" font-weight="bold">j</text>
<line x1="609.65" y1="670.50" x2="609.65" y2="762.30" stroke="#c9ddf0" stroke-width="0.9" />
<line x1="669.90" y1="670.50" x2="669.90" y2="762.30" stroke="#c9ddf0" stroke-width="0.9" />
<rect x="549.10" y="657.00" width="9.00" height="8.60" fill="#e8622a" stroke="none" stroke-width="0.8" />
<text x="564.30" y="664.70" font-size="8.6" textLength="20.00" lengthAdjust="spacingAndGlyphs">NMD</text>
<rect x="599.90" y="657.00" width="9.00" height="8.60" fill="#1b8fd1" stroke="none" stroke-width="0.8" />
<text x="614.80" y="664.70" font-size="8.6" textLength="42.00" lengthAdjust="spacingAndGlyphs">Canonical</text>
<rect x="549.40" y="674.35" width="120.50" height="6.30" fill="#1b8fd1" stroke="none" stroke-width="0.8" />
<rect x="549.40" y="674.35" width="73.87" height="6.30" fill="#e8622a" stroke="none" stroke-width="0.8" />
<text x="544.00" y="681.00" font-size="10.3" text-anchor="end" textLength="14.60" lengthAdjust="spacingAndGlyphs">WT</text>
<rect x="549.40" y="689.75" width="120.50" height="6.30" fill="#1b8fd1" stroke="none" stroke-width="0.8" />
<rect x="549.40" y="689.75" width="54.59" height="6.30" fill="#e8622a" stroke="none" stroke-width="0.8" />
<text x="544.00" y="696.40" font-size="10.3" text-anchor="end" textLength="33.60" lengthAdjust="spacingAndGlyphs">D308N</text>
<rect x="549.40" y="705.15" width="120.50" height="6.30" fill="#1b8fd1" stroke="none" stroke-width="0.8" />
<rect x="549.40" y="705.15" width="45.43" height="6.30" fill="#e8622a" stroke="none" stroke-width="0.8" />
<text x="544.00" y="711.80" font-size="10.3" text-anchor="end" textLength="26.00" lengthAdjust="spacingAndGlyphs">G27D</text>
<rect x="549.40" y="720.55" width="120.50" height="6.30" fill="#1b8fd1" stroke="none" stroke-width="0.8" />
<rect x="549.40" y="720.55" width="3.01" height="6.30" fill="#e8622a" stroke="none" stroke-width="0.8" />
<text x="544.00" y="727.20" font-size="10.3" text-anchor="end" textLength="30.40" lengthAdjust="spacingAndGlyphs">R161W</text>
<rect x="549.40" y="735.95" width="120.50" height="6.30" fill="#1b8fd1" stroke="none" stroke-width="0.8" />
<text x="544.00" y="742.60" font-size="10.3" text-anchor="end" textLength="30.40" lengthAdjust="spacingAndGlyphs">T189M</text>
<rect x="549.40" y="751.35" width="120.50" height="6.30" fill="#1b8fd1" stroke="none" stroke-width="0.8" />
<text x="544.00" y="758.00" font-size="10.3" text-anchor="end" textLength="34.60" lengthAdjust="spacingAndGlyphs">shRPL3</text>
<line x1="549.40" y1="670.00" x2="549.40" y2="762.00" stroke="#666" stroke-width="1" />
<text x="549.40" y="773.20" font-size="8.8" text-anchor="middle">0%</text>
<text x="609.65" y="773.20" font-size="8.8" text-anchor="middle">50%</text>
<text x="669.90" y="773.20" font-size="8.8" text-anchor="middle">100%</text>
</svg>
</body></html>
